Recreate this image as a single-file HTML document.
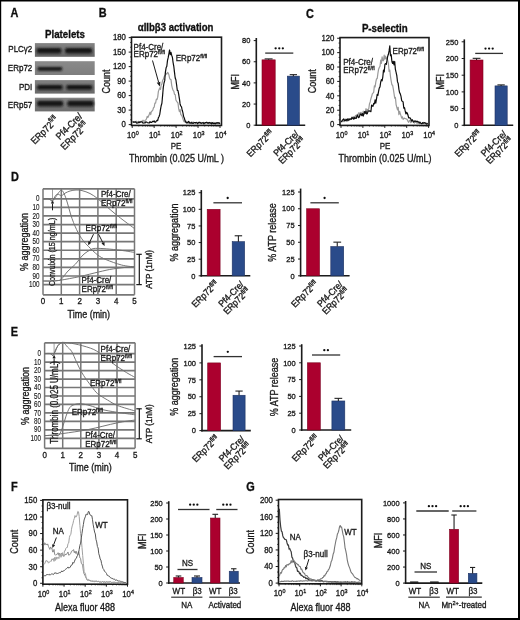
<!DOCTYPE html>
<html><head><meta charset="utf-8"><style>
html,body{margin:0;padding:0;background:#fff;}
svg{display:block;font-family:"Liberation Sans", sans-serif;will-change:transform;}
</style></head><body>
<svg width="520" height="620" viewBox="0 0 520 620">
<rect width="520" height="620" fill="#fff"/>
<defs><filter id="soft" x="0" y="0" width="100%" height="100%"><feGaussianBlur stdDeviation="0.3"/></filter></defs>
<g filter="url(#soft)">
<text transform="translate(10.50 17.20) scale(0.88 1)" font-size="12.39" text-anchor="start" font-weight="bold" fill="#111" stroke="#111" stroke-width="0.341">A</text>
<text transform="translate(98.80 17.30) scale(0.88 1)" font-size="12.39" text-anchor="start" font-weight="bold" fill="#111" stroke="#111" stroke-width="0.341">B</text>
<text transform="translate(306.00 17.60) scale(0.88 1)" font-size="12.39" text-anchor="start" font-weight="bold" fill="#111" stroke="#111" stroke-width="0.341">C</text>
<text transform="translate(11.00 181.00) scale(0.88 1)" font-size="12.39" text-anchor="start" font-weight="bold" fill="#111" stroke="#111" stroke-width="0.341">D</text>
<text transform="translate(10.80 336.00) scale(0.88 1)" font-size="12.39" text-anchor="start" font-weight="bold" fill="#111" stroke="#111" stroke-width="0.341">E</text>
<text transform="translate(11.10 491.40) scale(0.88 1)" font-size="12.39" text-anchor="start" font-weight="bold" fill="#111" stroke="#111" stroke-width="0.341">F</text>
<text transform="translate(246.30 490.60) scale(0.88 1)" font-size="12.39" text-anchor="start" font-weight="bold" fill="#111" stroke="#111" stroke-width="0.341">G</text>
<text transform="translate(65.00 38.30) scale(0.9 1)" font-size="10.78" text-anchor="middle" font-weight="bold" fill="#111" stroke="#111" stroke-width="0.333">Platelets</text>
<defs><filter id="bl" x="-20%" y="-100%" width="140%" height="300%"><feGaussianBlur stdDeviation="0.85"/></filter></defs>
<defs><linearGradient id="bg0" x1="0" y1="0" x2="0" y2="1"><stop offset="0" stop-color="#848484"/><stop offset="1" stop-color="#646464"/></linearGradient></defs>
<rect x="34.90" y="43.10" width="59.80" height="13.70" fill="url(#bg0)"/>
<rect x="36.5" y="47.90" width="25.00" height="5.6" rx="2.15" fill="#141414" filter="url(#bl)"/>
<rect x="65.0" y="47.90" width="27.20" height="5.6" rx="2.15" fill="#141414" filter="url(#bl)"/>
<defs><linearGradient id="bg1" x1="0" y1="0" x2="0" y2="1"><stop offset="0" stop-color="#8a8a8a"/><stop offset="1" stop-color="#7e7e7e"/></linearGradient></defs>
<rect x="34.90" y="61.20" width="59.80" height="13.80" fill="url(#bg1)"/>
<rect x="37.5" y="67.10" width="24.70" height="3.6" rx="1.38" fill="#141414" filter="url(#bl)"/>
<defs><linearGradient id="bg2" x1="0" y1="0" x2="0" y2="1"><stop offset="0" stop-color="#808080"/><stop offset="1" stop-color="#6a6a6a"/></linearGradient></defs>
<rect x="34.90" y="80.10" width="59.80" height="13.50" fill="url(#bg2)"/>
<rect x="37.0" y="85.10" width="25.70" height="4.6" rx="1.77" fill="#141414" filter="url(#bl)"/>
<rect x="66.3" y="85.10" width="26.00" height="4.6" rx="1.77" fill="#141414" filter="url(#bl)"/>
<defs><linearGradient id="bg3" x1="0" y1="0" x2="0" y2="1"><stop offset="0" stop-color="#868686"/><stop offset="1" stop-color="#6c6c6c"/></linearGradient></defs>
<rect x="34.90" y="97.70" width="59.80" height="13.70" fill="url(#bg3)"/>
<rect x="37.0" y="100.80" width="26.20" height="5.6" rx="2.15" fill="#141414" filter="url(#bl)"/>
<rect x="67.3" y="100.80" width="26.50" height="5.6" rx="2.15" fill="#141414" filter="url(#bl)"/>
<text transform="translate(32.30 51.50) scale(0.85 1)" font-size="9.41" text-anchor="end" fill="#1a1a1a" stroke="#1a1a1a" stroke-width="0.353">PLCγ2</text>
<text transform="translate(32.30 71.40) scale(0.85 1)" font-size="9.41" text-anchor="end" fill="#1a1a1a" stroke="#1a1a1a" stroke-width="0.353">ERp72</text>
<text transform="translate(32.30 90.30) scale(0.85 1)" font-size="9.41" text-anchor="end" fill="#1a1a1a" stroke="#1a1a1a" stroke-width="0.353">PDI</text>
<text transform="translate(32.30 108.40) scale(0.85 1)" font-size="9.41" text-anchor="end" fill="#1a1a1a" stroke="#1a1a1a" stroke-width="0.353">ERp57</text>
<text transform="translate(44.80 130.40) rotate(-45) scale(0.9 1)" font-size="9.78" text-anchor="middle" fill="#1a1a1a" stroke="#1a1a1a" stroke-width="0.333" dominant-baseline="central">ERp72<tspan font-size="6.65" baseline-shift="3.23">fl/fl</tspan></text>
<text transform="translate(69.20 126.40) rotate(-45) scale(0.9 1)" font-size="9.78" text-anchor="middle" fill="#1a1a1a" stroke="#1a1a1a" stroke-width="0.333" dominant-baseline="central">Pf4-Cre/</text>
<text transform="translate(74.60 136.00) rotate(-45) scale(0.9 1)" font-size="9.78" text-anchor="middle" fill="#1a1a1a" stroke="#1a1a1a" stroke-width="0.333" dominant-baseline="central">ERp72<tspan font-size="6.65" baseline-shift="3.23">fl/fl</tspan></text>
<rect x="131.50" y="37.20" width="90.00" height="88.20" fill="none" stroke="#1a1a1a" stroke-width="1.6"/>
<line x1="128.70" y1="124.60" x2="131.50" y2="124.60" stroke="#1a1a1a" stroke-width="1.0"/>
<text transform="translate(125.90 127.40) scale(0.93 1)" font-size="8.39" text-anchor="end" fill="#1a1a1a" stroke="#1a1a1a" stroke-width="0.323">0</text>
<line x1="128.70" y1="110.10" x2="131.50" y2="110.10" stroke="#1a1a1a" stroke-width="1.0"/>
<text transform="translate(125.90 112.90) scale(0.93 1)" font-size="8.39" text-anchor="end" fill="#1a1a1a" stroke="#1a1a1a" stroke-width="0.323">30</text>
<line x1="128.70" y1="95.60" x2="131.50" y2="95.60" stroke="#1a1a1a" stroke-width="1.0"/>
<text transform="translate(125.90 98.40) scale(0.93 1)" font-size="8.39" text-anchor="end" fill="#1a1a1a" stroke="#1a1a1a" stroke-width="0.323">60</text>
<line x1="128.70" y1="81.10" x2="131.50" y2="81.10" stroke="#1a1a1a" stroke-width="1.0"/>
<text transform="translate(125.90 83.90) scale(0.93 1)" font-size="8.39" text-anchor="end" fill="#1a1a1a" stroke="#1a1a1a" stroke-width="0.323">90</text>
<line x1="128.70" y1="66.60" x2="131.50" y2="66.60" stroke="#1a1a1a" stroke-width="1.0"/>
<text transform="translate(125.90 69.40) scale(0.93 1)" font-size="8.39" text-anchor="end" fill="#1a1a1a" stroke="#1a1a1a" stroke-width="0.323">120</text>
<line x1="128.70" y1="52.10" x2="131.50" y2="52.10" stroke="#1a1a1a" stroke-width="1.0"/>
<text transform="translate(125.90 54.90) scale(0.93 1)" font-size="8.39" text-anchor="end" fill="#1a1a1a" stroke="#1a1a1a" stroke-width="0.323">150</text>
<line x1="128.70" y1="37.61" x2="131.50" y2="37.61" stroke="#1a1a1a" stroke-width="1.0"/>
<text transform="translate(125.90 40.41) scale(0.93 1)" font-size="8.39" text-anchor="end" fill="#1a1a1a" stroke="#1a1a1a" stroke-width="0.323">180</text>
<line x1="130.10" y1="119.77" x2="131.50" y2="119.77" stroke="#1a1a1a" stroke-width="0.8"/>
<line x1="130.10" y1="114.93" x2="131.50" y2="114.93" stroke="#1a1a1a" stroke-width="0.8"/>
<line x1="130.10" y1="105.27" x2="131.50" y2="105.27" stroke="#1a1a1a" stroke-width="0.8"/>
<line x1="130.10" y1="100.43" x2="131.50" y2="100.43" stroke="#1a1a1a" stroke-width="0.8"/>
<line x1="130.10" y1="90.77" x2="131.50" y2="90.77" stroke="#1a1a1a" stroke-width="0.8"/>
<line x1="130.10" y1="85.94" x2="131.50" y2="85.94" stroke="#1a1a1a" stroke-width="0.8"/>
<line x1="130.10" y1="76.27" x2="131.50" y2="76.27" stroke="#1a1a1a" stroke-width="0.8"/>
<line x1="130.10" y1="71.44" x2="131.50" y2="71.44" stroke="#1a1a1a" stroke-width="0.8"/>
<line x1="130.10" y1="61.77" x2="131.50" y2="61.77" stroke="#1a1a1a" stroke-width="0.8"/>
<line x1="130.10" y1="56.94" x2="131.50" y2="56.94" stroke="#1a1a1a" stroke-width="0.8"/>
<line x1="130.10" y1="47.27" x2="131.50" y2="47.27" stroke="#1a1a1a" stroke-width="0.8"/>
<line x1="130.10" y1="42.44" x2="131.50" y2="42.44" stroke="#1a1a1a" stroke-width="0.8"/>
<line x1="132.20" y1="125.40" x2="132.20" y2="127.90" stroke="#1a1a1a" stroke-width="1.0"/>
<text transform="translate(132.80 138.00) scale(0.93 1)" font-size="8.39" text-anchor="middle" fill="#1a1a1a" stroke="#1a1a1a" stroke-width="0.323">10<tspan font-size="5.81" dy="-3.2">0</tspan></text>
<line x1="138.81" y1="125.40" x2="138.81" y2="126.70" stroke="#1a1a1a" stroke-width="0.6"/>
<line x1="142.67" y1="125.40" x2="142.67" y2="126.70" stroke="#1a1a1a" stroke-width="0.6"/>
<line x1="145.42" y1="125.40" x2="145.42" y2="126.70" stroke="#1a1a1a" stroke-width="0.6"/>
<line x1="147.54" y1="125.40" x2="147.54" y2="126.70" stroke="#1a1a1a" stroke-width="0.6"/>
<line x1="149.28" y1="125.40" x2="149.28" y2="126.70" stroke="#1a1a1a" stroke-width="0.6"/>
<line x1="150.75" y1="125.40" x2="150.75" y2="126.70" stroke="#1a1a1a" stroke-width="0.6"/>
<line x1="152.02" y1="125.40" x2="152.02" y2="126.70" stroke="#1a1a1a" stroke-width="0.6"/>
<line x1="153.15" y1="125.40" x2="153.15" y2="126.70" stroke="#1a1a1a" stroke-width="0.6"/>
<line x1="154.15" y1="125.40" x2="154.15" y2="127.90" stroke="#1a1a1a" stroke-width="1.0"/>
<text transform="translate(154.75 138.00) scale(0.93 1)" font-size="8.39" text-anchor="middle" fill="#1a1a1a" stroke="#1a1a1a" stroke-width="0.323">10<tspan font-size="5.81" dy="-3.2">1</tspan></text>
<line x1="160.76" y1="125.40" x2="160.76" y2="126.70" stroke="#1a1a1a" stroke-width="0.6"/>
<line x1="164.62" y1="125.40" x2="164.62" y2="126.70" stroke="#1a1a1a" stroke-width="0.6"/>
<line x1="167.37" y1="125.40" x2="167.37" y2="126.70" stroke="#1a1a1a" stroke-width="0.6"/>
<line x1="169.49" y1="125.40" x2="169.49" y2="126.70" stroke="#1a1a1a" stroke-width="0.6"/>
<line x1="171.23" y1="125.40" x2="171.23" y2="126.70" stroke="#1a1a1a" stroke-width="0.6"/>
<line x1="172.70" y1="125.40" x2="172.70" y2="126.70" stroke="#1a1a1a" stroke-width="0.6"/>
<line x1="173.97" y1="125.40" x2="173.97" y2="126.70" stroke="#1a1a1a" stroke-width="0.6"/>
<line x1="175.10" y1="125.40" x2="175.10" y2="126.70" stroke="#1a1a1a" stroke-width="0.6"/>
<line x1="176.10" y1="125.40" x2="176.10" y2="127.90" stroke="#1a1a1a" stroke-width="1.0"/>
<text transform="translate(176.70 138.00) scale(0.93 1)" font-size="8.39" text-anchor="middle" fill="#1a1a1a" stroke="#1a1a1a" stroke-width="0.323">10<tspan font-size="5.81" dy="-3.2">2</tspan></text>
<line x1="182.71" y1="125.40" x2="182.71" y2="126.70" stroke="#1a1a1a" stroke-width="0.6"/>
<line x1="186.57" y1="125.40" x2="186.57" y2="126.70" stroke="#1a1a1a" stroke-width="0.6"/>
<line x1="189.32" y1="125.40" x2="189.32" y2="126.70" stroke="#1a1a1a" stroke-width="0.6"/>
<line x1="191.44" y1="125.40" x2="191.44" y2="126.70" stroke="#1a1a1a" stroke-width="0.6"/>
<line x1="193.18" y1="125.40" x2="193.18" y2="126.70" stroke="#1a1a1a" stroke-width="0.6"/>
<line x1="194.65" y1="125.40" x2="194.65" y2="126.70" stroke="#1a1a1a" stroke-width="0.6"/>
<line x1="195.92" y1="125.40" x2="195.92" y2="126.70" stroke="#1a1a1a" stroke-width="0.6"/>
<line x1="197.05" y1="125.40" x2="197.05" y2="126.70" stroke="#1a1a1a" stroke-width="0.6"/>
<line x1="198.05" y1="125.40" x2="198.05" y2="127.90" stroke="#1a1a1a" stroke-width="1.0"/>
<text transform="translate(198.65 138.00) scale(0.93 1)" font-size="8.39" text-anchor="middle" fill="#1a1a1a" stroke="#1a1a1a" stroke-width="0.323">10<tspan font-size="5.81" dy="-3.2">3</tspan></text>
<line x1="204.66" y1="125.40" x2="204.66" y2="126.70" stroke="#1a1a1a" stroke-width="0.6"/>
<line x1="208.52" y1="125.40" x2="208.52" y2="126.70" stroke="#1a1a1a" stroke-width="0.6"/>
<line x1="211.27" y1="125.40" x2="211.27" y2="126.70" stroke="#1a1a1a" stroke-width="0.6"/>
<line x1="213.39" y1="125.40" x2="213.39" y2="126.70" stroke="#1a1a1a" stroke-width="0.6"/>
<line x1="215.13" y1="125.40" x2="215.13" y2="126.70" stroke="#1a1a1a" stroke-width="0.6"/>
<line x1="216.60" y1="125.40" x2="216.60" y2="126.70" stroke="#1a1a1a" stroke-width="0.6"/>
<line x1="217.87" y1="125.40" x2="217.87" y2="126.70" stroke="#1a1a1a" stroke-width="0.6"/>
<line x1="219.00" y1="125.40" x2="219.00" y2="126.70" stroke="#1a1a1a" stroke-width="0.6"/>
<line x1="220.00" y1="125.40" x2="220.00" y2="127.90" stroke="#1a1a1a" stroke-width="1.0"/>
<text transform="translate(220.60 138.00) scale(0.93 1)" font-size="8.39" text-anchor="middle" fill="#1a1a1a" stroke="#1a1a1a" stroke-width="0.323">10<tspan font-size="5.81" dy="-3.2">4</tspan></text>
<text transform="translate(106.00 81.50) rotate(-90) scale(0.9 1)" font-size="10.00" text-anchor="middle" fill="#1a1a1a" stroke="#1a1a1a" stroke-width="0.333" dominant-baseline="central">Count</text>
<polyline points="132.50,122.05 133.20,122.51 133.90,122.15 134.60,122.49 135.30,122.47 136.00,121.41 136.70,121.24 137.40,122.67 138.10,121.54 138.80,121.34 139.50,122.63 140.20,121.49 140.90,122.06 141.60,121.21 142.30,121.40 143.00,120.25 143.70,121.11 144.40,121.47 145.10,120.27 145.80,119.93 146.50,118.91 147.20,116.30 147.90,117.47 148.60,116.09 149.30,114.20 150.00,112.26 150.70,114.57 151.40,111.49 152.10,111.02 152.80,110.18 153.50,107.77 154.20,107.14 154.90,102.99 155.60,103.05 156.30,99.26 157.00,99.53 157.70,97.17 158.40,91.34 159.10,89.44 159.80,87.76 160.50,89.39 161.20,84.88 161.90,83.82 162.60,80.29 163.30,79.32 164.00,77.13 164.70,75.42 165.40,75.01 166.10,73.46 166.80,74.02 167.50,72.41 168.20,73.04 168.90,74.91 169.60,78.25 170.30,79.40 171.00,79.58 171.70,85.35 172.40,88.28 173.10,90.42 173.80,91.23 174.50,94.44 175.20,94.53 175.90,100.02 176.60,101.29 177.30,102.05 178.00,103.06 178.70,108.93 179.40,111.66 180.10,109.57 180.80,114.59 181.50,115.18 182.20,116.52 182.90,118.76 183.60,120.83 184.30,121.93 185.00,121.18 185.70,122.29 186.40,121.33 187.10,122.60 187.80,121.99 188.50,123.02 189.20,123.25 189.90,122.50 190.60,123.41 191.30,122.32 192.00,122.00 192.70,122.94 193.40,122.08 194.10,122.43 194.80,122.83 195.50,123.18 196.20,122.47 196.90,122.30 197.60,123.61 198.30,122.75 199.00,123.77 199.70,123.68 200.40,122.87 201.10,123.01 201.80,123.11 202.50,123.31 203.20,123.25 203.90,123.20 204.60,123.30 205.30,123.81 206.00,123.14 206.70,123.03 207.40,123.49 208.10,122.75 208.80,122.86 209.50,123.91 210.20,123.21 210.90,123.26 211.60,122.44 212.30,123.07 213.00,123.33 213.70,122.49 214.40,123.41 215.10,123.44 215.80,122.57 216.50,123.45 217.20,123.21 217.90,123.54 218.60,123.05 219.30,123.60 220.00,123.65" fill="none" stroke="#9a9a9a" stroke-width="1.2" stroke-linejoin="round"/>
<polyline points="132.50,122.05 133.20,121.82 133.90,122.32 134.60,121.91 135.30,121.76 136.00,122.33 136.70,123.21 137.40,123.01 138.10,122.95 138.80,122.03 139.50,122.56 140.20,122.12 140.90,121.92 141.60,121.79 142.30,121.96 143.00,123.17 143.70,122.99 144.40,122.94 145.10,122.92 145.80,121.85 146.50,122.04 147.20,122.58 147.90,122.75 148.60,122.95 149.30,122.98 150.00,121.58 150.70,122.38 151.40,122.39 152.10,121.97 152.80,121.25 153.50,121.69 154.20,120.84 154.90,122.36 155.60,122.01 156.30,121.11 157.00,120.33 157.70,120.61 158.40,117.59 159.10,116.46 159.80,114.14 160.50,109.46 161.20,105.70 161.90,103.27 162.60,95.56 163.30,87.36 164.00,82.97 164.70,80.64 165.40,72.17 166.10,67.80 166.80,66.35 167.50,60.46 168.20,57.70 168.90,53.61 169.60,49.97 170.30,54.69 171.00,52.41 171.70,55.41 172.40,57.29 173.10,62.62 173.80,66.42 174.50,72.31 175.20,78.00 175.90,79.78 176.60,84.74 177.30,90.41 178.00,90.60 178.70,94.46 179.40,98.59 180.10,103.94 180.80,105.99 181.50,106.96 182.20,110.25 182.90,112.58 183.60,116.47 184.30,117.99 185.00,120.54 185.70,121.86 186.40,122.83 187.10,122.51 187.80,122.98 188.50,121.39 189.20,121.96 189.90,123.21 190.60,122.96 191.30,122.42 192.00,123.39 192.70,122.93 193.40,123.33 194.10,122.56 194.80,122.49 195.50,122.92 196.20,122.44 196.90,122.84 197.60,123.76 198.30,122.77 199.00,122.28 199.70,122.34 200.40,122.55 201.10,123.52 201.80,122.87 202.50,122.76 203.20,122.47 203.90,123.86 204.60,122.99 205.30,122.67 206.00,122.45 206.70,122.45 207.40,122.63 208.10,123.43 208.80,122.62 209.50,122.46 210.20,123.16 210.90,122.80 211.60,123.96 212.30,122.62 213.00,123.26 213.70,123.64 214.40,123.09 215.10,123.98 215.80,123.21 216.50,122.86 217.20,123.13 217.90,122.57 218.60,123.16 219.30,122.90 220.00,123.88" fill="none" stroke="#111" stroke-width="1.2" stroke-linejoin="round"/>
<text transform="translate(175.60 31.00) scale(0.9 1)" font-size="10.67" text-anchor="middle" font-weight="bold" fill="#111" stroke="#111" stroke-width="0.333">αIIbβ3 activation</text>
<text transform="translate(176.00 149.30) scale(0.9 1)" font-size="8.89" text-anchor="middle" fill="#1a1a1a" stroke="#1a1a1a" stroke-width="0.333">PE</text>
<text transform="translate(176.50 161.60) scale(0.9 1)" font-size="10.00" text-anchor="middle" fill="#1a1a1a" stroke="#1a1a1a" stroke-width="0.333">Thrombin (0.025 U/mL )</text>
<text transform="translate(133.60 49.50) scale(0.9 1)" font-size="8.89" text-anchor="start" fill="#1a1a1a" stroke="#1a1a1a" stroke-width="0.333">Pf4-Cre/</text>
<text transform="translate(133.60 57.20) scale(0.9 1)" font-size="8.89" text-anchor="start" fill="#1a1a1a" stroke="#1a1a1a" stroke-width="0.333">ERp72<tspan font-size="6.04" baseline-shift="2.93">fl/fl</tspan></text>
<text transform="translate(175.80 60.80) scale(0.9 1)" font-size="8.89" text-anchor="start" fill="#1a1a1a" stroke="#1a1a1a" stroke-width="0.333">ERp72<tspan font-size="6.04" baseline-shift="2.93">fl/fl</tspan></text>
<line x1="152.50" y1="60.50" x2="158.58" y2="82.17" stroke="#1a1a1a" stroke-width="1"/>
<polygon points="159.80,86.50 156.75,82.68 160.41,81.65" fill="#1a1a1a"/>
<rect x="340.00" y="37.60" width="89.00" height="87.80" fill="none" stroke="#1a1a1a" stroke-width="1.6"/>
<line x1="337.20" y1="124.60" x2="340.00" y2="124.60" stroke="#1a1a1a" stroke-width="1.0"/>
<text transform="translate(334.40 127.40) scale(0.93 1)" font-size="8.39" text-anchor="end" fill="#1a1a1a" stroke="#1a1a1a" stroke-width="0.323">0</text>
<line x1="337.20" y1="110.21" x2="340.00" y2="110.21" stroke="#1a1a1a" stroke-width="1.0"/>
<text transform="translate(334.40 113.01) scale(0.93 1)" font-size="8.39" text-anchor="end" fill="#1a1a1a" stroke="#1a1a1a" stroke-width="0.323">20</text>
<line x1="337.20" y1="95.82" x2="340.00" y2="95.82" stroke="#1a1a1a" stroke-width="1.0"/>
<text transform="translate(334.40 98.62) scale(0.93 1)" font-size="8.39" text-anchor="end" fill="#1a1a1a" stroke="#1a1a1a" stroke-width="0.323">40</text>
<line x1="337.20" y1="81.42" x2="340.00" y2="81.42" stroke="#1a1a1a" stroke-width="1.0"/>
<text transform="translate(334.40 84.22) scale(0.93 1)" font-size="8.39" text-anchor="end" fill="#1a1a1a" stroke="#1a1a1a" stroke-width="0.323">60</text>
<line x1="337.20" y1="67.03" x2="340.00" y2="67.03" stroke="#1a1a1a" stroke-width="1.0"/>
<text transform="translate(334.40 69.83) scale(0.93 1)" font-size="8.39" text-anchor="end" fill="#1a1a1a" stroke="#1a1a1a" stroke-width="0.323">80</text>
<line x1="337.20" y1="52.64" x2="340.00" y2="52.64" stroke="#1a1a1a" stroke-width="1.0"/>
<text transform="translate(334.40 55.44) scale(0.93 1)" font-size="8.39" text-anchor="end" fill="#1a1a1a" stroke="#1a1a1a" stroke-width="0.323">100</text>
<line x1="337.20" y1="38.25" x2="340.00" y2="38.25" stroke="#1a1a1a" stroke-width="1.0"/>
<text transform="translate(334.40 41.05) scale(0.93 1)" font-size="8.39" text-anchor="end" fill="#1a1a1a" stroke="#1a1a1a" stroke-width="0.323">120</text>
<line x1="338.60" y1="119.80" x2="340.00" y2="119.80" stroke="#1a1a1a" stroke-width="0.8"/>
<line x1="338.60" y1="115.01" x2="340.00" y2="115.01" stroke="#1a1a1a" stroke-width="0.8"/>
<line x1="338.60" y1="105.41" x2="340.00" y2="105.41" stroke="#1a1a1a" stroke-width="0.8"/>
<line x1="338.60" y1="100.61" x2="340.00" y2="100.61" stroke="#1a1a1a" stroke-width="0.8"/>
<line x1="338.60" y1="91.02" x2="340.00" y2="91.02" stroke="#1a1a1a" stroke-width="0.8"/>
<line x1="338.60" y1="86.22" x2="340.00" y2="86.22" stroke="#1a1a1a" stroke-width="0.8"/>
<line x1="338.60" y1="76.63" x2="340.00" y2="76.63" stroke="#1a1a1a" stroke-width="0.8"/>
<line x1="338.60" y1="71.83" x2="340.00" y2="71.83" stroke="#1a1a1a" stroke-width="0.8"/>
<line x1="338.60" y1="62.23" x2="340.00" y2="62.23" stroke="#1a1a1a" stroke-width="0.8"/>
<line x1="338.60" y1="57.44" x2="340.00" y2="57.44" stroke="#1a1a1a" stroke-width="0.8"/>
<line x1="338.60" y1="47.84" x2="340.00" y2="47.84" stroke="#1a1a1a" stroke-width="0.8"/>
<line x1="338.60" y1="43.05" x2="340.00" y2="43.05" stroke="#1a1a1a" stroke-width="0.8"/>
<line x1="341.00" y1="125.40" x2="341.00" y2="127.90" stroke="#1a1a1a" stroke-width="1.0"/>
<text transform="translate(341.60 138.00) scale(0.93 1)" font-size="8.39" text-anchor="middle" fill="#1a1a1a" stroke="#1a1a1a" stroke-width="0.323">10<tspan font-size="5.81" dy="-3.2">0</tspan></text>
<line x1="347.59" y1="125.40" x2="347.59" y2="126.70" stroke="#1a1a1a" stroke-width="0.6"/>
<line x1="351.45" y1="125.40" x2="351.45" y2="126.70" stroke="#1a1a1a" stroke-width="0.6"/>
<line x1="354.19" y1="125.40" x2="354.19" y2="126.70" stroke="#1a1a1a" stroke-width="0.6"/>
<line x1="356.31" y1="125.40" x2="356.31" y2="126.70" stroke="#1a1a1a" stroke-width="0.6"/>
<line x1="358.04" y1="125.40" x2="358.04" y2="126.70" stroke="#1a1a1a" stroke-width="0.6"/>
<line x1="359.51" y1="125.40" x2="359.51" y2="126.70" stroke="#1a1a1a" stroke-width="0.6"/>
<line x1="360.78" y1="125.40" x2="360.78" y2="126.70" stroke="#1a1a1a" stroke-width="0.6"/>
<line x1="361.90" y1="125.40" x2="361.90" y2="126.70" stroke="#1a1a1a" stroke-width="0.6"/>
<line x1="362.90" y1="125.40" x2="362.90" y2="127.90" stroke="#1a1a1a" stroke-width="1.0"/>
<text transform="translate(363.50 138.00) scale(0.93 1)" font-size="8.39" text-anchor="middle" fill="#1a1a1a" stroke="#1a1a1a" stroke-width="0.323">10<tspan font-size="5.81" dy="-3.2">1</tspan></text>
<line x1="369.49" y1="125.40" x2="369.49" y2="126.70" stroke="#1a1a1a" stroke-width="0.6"/>
<line x1="373.35" y1="125.40" x2="373.35" y2="126.70" stroke="#1a1a1a" stroke-width="0.6"/>
<line x1="376.09" y1="125.40" x2="376.09" y2="126.70" stroke="#1a1a1a" stroke-width="0.6"/>
<line x1="378.21" y1="125.40" x2="378.21" y2="126.70" stroke="#1a1a1a" stroke-width="0.6"/>
<line x1="379.94" y1="125.40" x2="379.94" y2="126.70" stroke="#1a1a1a" stroke-width="0.6"/>
<line x1="381.41" y1="125.40" x2="381.41" y2="126.70" stroke="#1a1a1a" stroke-width="0.6"/>
<line x1="382.68" y1="125.40" x2="382.68" y2="126.70" stroke="#1a1a1a" stroke-width="0.6"/>
<line x1="383.80" y1="125.40" x2="383.80" y2="126.70" stroke="#1a1a1a" stroke-width="0.6"/>
<line x1="384.80" y1="125.40" x2="384.80" y2="127.90" stroke="#1a1a1a" stroke-width="1.0"/>
<text transform="translate(385.40 138.00) scale(0.93 1)" font-size="8.39" text-anchor="middle" fill="#1a1a1a" stroke="#1a1a1a" stroke-width="0.323">10<tspan font-size="5.81" dy="-3.2">2</tspan></text>
<line x1="391.39" y1="125.40" x2="391.39" y2="126.70" stroke="#1a1a1a" stroke-width="0.6"/>
<line x1="395.25" y1="125.40" x2="395.25" y2="126.70" stroke="#1a1a1a" stroke-width="0.6"/>
<line x1="397.99" y1="125.40" x2="397.99" y2="126.70" stroke="#1a1a1a" stroke-width="0.6"/>
<line x1="400.11" y1="125.40" x2="400.11" y2="126.70" stroke="#1a1a1a" stroke-width="0.6"/>
<line x1="401.84" y1="125.40" x2="401.84" y2="126.70" stroke="#1a1a1a" stroke-width="0.6"/>
<line x1="403.31" y1="125.40" x2="403.31" y2="126.70" stroke="#1a1a1a" stroke-width="0.6"/>
<line x1="404.58" y1="125.40" x2="404.58" y2="126.70" stroke="#1a1a1a" stroke-width="0.6"/>
<line x1="405.70" y1="125.40" x2="405.70" y2="126.70" stroke="#1a1a1a" stroke-width="0.6"/>
<line x1="406.70" y1="125.40" x2="406.70" y2="127.90" stroke="#1a1a1a" stroke-width="1.0"/>
<text transform="translate(407.30 138.00) scale(0.93 1)" font-size="8.39" text-anchor="middle" fill="#1a1a1a" stroke="#1a1a1a" stroke-width="0.323">10<tspan font-size="5.81" dy="-3.2">3</tspan></text>
<line x1="413.29" y1="125.40" x2="413.29" y2="126.70" stroke="#1a1a1a" stroke-width="0.6"/>
<line x1="417.15" y1="125.40" x2="417.15" y2="126.70" stroke="#1a1a1a" stroke-width="0.6"/>
<line x1="419.89" y1="125.40" x2="419.89" y2="126.70" stroke="#1a1a1a" stroke-width="0.6"/>
<line x1="422.01" y1="125.40" x2="422.01" y2="126.70" stroke="#1a1a1a" stroke-width="0.6"/>
<line x1="423.74" y1="125.40" x2="423.74" y2="126.70" stroke="#1a1a1a" stroke-width="0.6"/>
<line x1="425.21" y1="125.40" x2="425.21" y2="126.70" stroke="#1a1a1a" stroke-width="0.6"/>
<line x1="426.48" y1="125.40" x2="426.48" y2="126.70" stroke="#1a1a1a" stroke-width="0.6"/>
<line x1="427.60" y1="125.40" x2="427.60" y2="126.70" stroke="#1a1a1a" stroke-width="0.6"/>
<line x1="428.60" y1="125.40" x2="428.60" y2="127.90" stroke="#1a1a1a" stroke-width="1.0"/>
<text transform="translate(429.20 138.00) scale(0.93 1)" font-size="8.39" text-anchor="middle" fill="#1a1a1a" stroke="#1a1a1a" stroke-width="0.323">10<tspan font-size="5.81" dy="-3.2">4</tspan></text>
<text transform="translate(312.50 81.30) rotate(-90) scale(0.9 1)" font-size="10.00" text-anchor="middle" fill="#1a1a1a" stroke="#1a1a1a" stroke-width="0.333" dominant-baseline="central">Count</text>
<polyline points="340.80,121.12 341.50,121.37 342.20,121.43 342.90,121.74 343.60,121.10 344.30,121.52 345.00,118.93 345.70,120.05 346.40,121.32 347.10,120.39 347.80,121.03 348.50,118.62 349.20,119.57 349.90,118.81 350.60,119.53 351.30,119.25 352.00,117.04 352.70,117.30 353.40,117.11 354.10,119.02 354.80,118.12 355.50,115.44 356.20,117.56 356.90,114.53 357.60,116.12 358.30,113.64 359.00,112.67 359.70,116.18 360.40,112.77 361.10,112.34 361.80,115.60 362.50,114.64 363.20,111.19 363.90,114.28 364.60,111.56 365.30,111.87 366.00,108.70 366.70,111.98 367.40,109.40 368.10,109.99 368.80,108.48 369.50,103.70 370.20,101.99 370.90,98.74 371.60,96.54 372.30,93.97 373.00,93.20 373.70,92.17 374.40,85.73 375.10,86.94 375.80,82.06 376.50,78.93 377.20,78.72 377.90,73.44 378.60,69.19 379.30,67.45 380.00,66.45 380.70,60.22 381.40,63.39 382.10,56.86 382.80,60.67 383.50,60.69 384.20,55.17 384.90,59.24 385.60,56.16 386.30,58.92 387.00,57.82 387.70,60.36 388.40,63.49 389.10,71.39 389.80,70.09 390.50,76.71 391.20,81.15 391.90,84.96 392.60,85.12 393.30,88.92 394.00,93.41 394.70,98.17 395.40,97.43 396.10,104.53 396.80,107.27 397.50,109.96 398.20,107.41 398.90,114.57 399.60,111.29 400.30,113.60 401.00,115.84 401.70,118.06 402.40,116.78 403.10,119.34 403.80,118.46 404.50,118.17 405.20,118.68 405.90,118.77 406.60,119.00 407.30,119.72 408.00,121.41 408.70,122.34 409.40,120.38 410.10,120.28 410.80,122.72 411.50,121.79 412.20,121.65 412.90,121.43 413.60,122.39 414.30,123.05 415.00,122.41 415.70,122.39 416.40,121.68 417.10,123.53 417.80,121.75 418.50,122.76 419.20,123.51 419.90,122.13 420.60,123.39 421.30,123.88 422.00,123.30 422.70,123.65 423.40,122.38 424.10,123.07 424.80,122.59 425.50,123.96 426.20,122.98 426.90,123.33 427.60,124.39" fill="none" stroke="#9a9a9a" stroke-width="1.2" stroke-linejoin="round"/>
<polyline points="340.80,121.57 341.50,121.56 342.20,120.53 342.90,119.78 343.60,118.91 344.30,120.63 345.00,119.95 345.70,120.66 346.40,119.39 347.10,120.44 347.80,118.81 348.50,120.29 349.20,119.94 349.90,118.82 350.60,119.06 351.30,119.30 352.00,117.45 352.70,118.43 353.40,119.08 354.10,116.96 354.80,118.66 355.50,118.02 356.20,118.39 356.90,116.25 357.60,115.07 358.30,117.60 359.00,117.41 359.70,115.74 360.40,114.04 361.10,114.11 361.80,115.52 362.50,113.51 363.20,116.10 363.90,113.94 364.60,111.56 365.30,113.37 366.00,111.37 366.70,113.97 367.40,113.43 368.10,110.78 368.80,111.07 369.50,110.94 370.20,111.13 370.90,111.69 371.60,105.08 372.30,105.96 373.00,106.29 373.70,103.39 374.40,103.98 375.10,99.87 375.80,103.07 376.50,98.82 377.20,94.25 377.90,95.41 378.60,91.18 379.30,87.98 380.00,86.90 380.70,82.03 381.40,79.66 382.10,80.79 382.80,76.99 383.50,70.08 384.20,71.86 384.90,64.46 385.60,63.51 386.30,64.45 387.00,60.41 387.70,56.18 388.40,54.26 389.10,50.88 389.80,45.86 390.50,55.73 391.20,54.69 391.90,61.54 392.60,63.48 393.30,61.39 394.00,64.89 394.70,61.48 395.40,69.43 396.10,72.45 396.80,75.65 397.50,81.68 398.20,83.41 398.90,89.29 399.60,92.66 400.30,93.88 401.00,96.38 401.70,100.56 402.40,101.49 403.10,101.89 403.80,108.20 404.50,107.66 405.20,110.94 405.90,113.89 406.60,112.30 407.30,113.22 408.00,115.23 408.70,117.94 409.40,117.70 410.10,117.94 410.80,119.14 411.50,121.10 412.20,119.73 412.90,120.61 413.60,122.00 414.30,121.48 415.00,120.79 415.70,121.48 416.40,121.66 417.10,121.06 417.80,121.78 418.50,121.80 419.20,123.06 419.90,122.16 420.60,122.95 421.30,123.68 422.00,123.65 422.70,122.62 423.40,123.16 424.10,122.68 424.80,122.92 425.50,123.18 426.20,123.84 426.90,124.19 427.60,123.07" fill="none" stroke="#111" stroke-width="1.2" stroke-linejoin="round"/>
<text transform="translate(384.80 32.00) scale(0.9 1)" font-size="10.78" text-anchor="middle" font-weight="bold" fill="#111" stroke="#111" stroke-width="0.333">P-selectin</text>
<text transform="translate(385.00 149.30) scale(0.9 1)" font-size="8.89" text-anchor="middle" fill="#1a1a1a" stroke="#1a1a1a" stroke-width="0.333">PE</text>
<text transform="translate(385.00 161.60) scale(0.9 1)" font-size="10.00" text-anchor="middle" fill="#1a1a1a" stroke="#1a1a1a" stroke-width="0.333">Thrombin (0.025 U/mL)</text>
<text transform="translate(392.60 54.20) scale(0.9 1)" font-size="8.89" text-anchor="start" fill="#1a1a1a" stroke="#1a1a1a" stroke-width="0.333">ERp72<tspan font-size="6.04" baseline-shift="2.93">fl/fl</tspan></text>
<text transform="translate(343.30 64.50) scale(0.9 1)" font-size="8.89" text-anchor="start" fill="#1a1a1a" stroke="#1a1a1a" stroke-width="0.333">Pf4-Cre/</text>
<text transform="translate(343.30 73.20) scale(0.9 1)" font-size="8.89" text-anchor="start" fill="#1a1a1a" stroke="#1a1a1a" stroke-width="0.333">ERp72<tspan font-size="6.04" baseline-shift="2.93">fl/fl</tspan></text>
<line x1="256.30" y1="38.00" x2="256.30" y2="126.00" stroke="#1a1a1a" stroke-width="1.6"/>
<line x1="255.50" y1="125.20" x2="305.20" y2="125.20" stroke="#1a1a1a" stroke-width="1.6"/>
<line x1="253.70" y1="125.20" x2="256.30" y2="125.20" stroke="#1a1a1a" stroke-width="1.0"/>
<text transform="translate(250.30 127.90) scale(0.93 1)" font-size="8.06" text-anchor="end" fill="#1a1a1a" stroke="#1a1a1a" stroke-width="0.323">0</text>
<line x1="253.70" y1="104.05" x2="256.30" y2="104.05" stroke="#1a1a1a" stroke-width="1.0"/>
<text transform="translate(250.30 106.75) scale(0.93 1)" font-size="8.06" text-anchor="end" fill="#1a1a1a" stroke="#1a1a1a" stroke-width="0.323">20</text>
<line x1="253.70" y1="82.90" x2="256.30" y2="82.90" stroke="#1a1a1a" stroke-width="1.0"/>
<text transform="translate(250.30 85.60) scale(0.93 1)" font-size="8.06" text-anchor="end" fill="#1a1a1a" stroke="#1a1a1a" stroke-width="0.323">40</text>
<line x1="253.70" y1="61.75" x2="256.30" y2="61.75" stroke="#1a1a1a" stroke-width="1.0"/>
<text transform="translate(250.30 64.45) scale(0.93 1)" font-size="8.06" text-anchor="end" fill="#1a1a1a" stroke="#1a1a1a" stroke-width="0.323">60</text>
<line x1="253.70" y1="40.60" x2="256.30" y2="40.60" stroke="#1a1a1a" stroke-width="1.0"/>
<text transform="translate(250.30 43.30) scale(0.93 1)" font-size="8.06" text-anchor="end" fill="#1a1a1a" stroke="#1a1a1a" stroke-width="0.323">80</text>
<rect x="262.00" y="59.85" width="13.20" height="65.35" fill="#ab022d" stroke="#7e0020" stroke-width="0.6"/>
<line x1="268.60" y1="59.85" x2="268.60" y2="58.89" stroke="#222" stroke-width="1.1"/>
<line x1="264.64" y1="58.89" x2="272.56" y2="58.89" stroke="#222" stroke-width="1.1"/>
<rect x="287.30" y="76.13" width="12.10" height="49.07" fill="#2c4b8a" stroke="#1d3160" stroke-width="0.6"/>
<line x1="293.35" y1="76.13" x2="293.35" y2="74.65" stroke="#222" stroke-width="1.1"/>
<line x1="289.72" y1="74.65" x2="296.98" y2="74.65" stroke="#222" stroke-width="1.1"/>
<line x1="265.20" y1="53.10" x2="293.30" y2="53.10" stroke="#333" stroke-width="1.3"/>
<circle cx="275.65" cy="48.30" r="1.15" fill="#111"/>
<circle cx="279.25" cy="48.30" r="1.15" fill="#111"/>
<circle cx="282.85" cy="48.30" r="1.15" fill="#111"/>
<text transform="translate(235.50 81.70) rotate(-90) scale(0.9 1)" font-size="10.00" text-anchor="middle" fill="#1a1a1a" stroke="#1a1a1a" stroke-width="0.333" dominant-baseline="central">MFI</text>
<text transform="translate(260.10 143.40) rotate(-45) scale(0.9 1)" font-size="9.44" text-anchor="middle" fill="#1a1a1a" stroke="#1a1a1a" stroke-width="0.333" dominant-baseline="central">ERp72<tspan font-size="6.42" baseline-shift="3.12">fl/fl</tspan></text>
<text transform="translate(286.10 143.40) rotate(-45) scale(0.9 1)" font-size="9.44" text-anchor="middle" fill="#1a1a1a" stroke="#1a1a1a" stroke-width="0.333" dominant-baseline="central">Pf4-Cre/</text>
<text transform="translate(291.70 150.50) rotate(-45) scale(0.9 1)" font-size="9.44" text-anchor="middle" fill="#1a1a1a" stroke="#1a1a1a" stroke-width="0.333" dominant-baseline="central">ERp72<tspan font-size="6.42" baseline-shift="3.12">fl/fl</tspan></text>
<line x1="464.30" y1="39.40" x2="464.30" y2="126.10" stroke="#1a1a1a" stroke-width="1.6"/>
<line x1="463.50" y1="125.30" x2="513.20" y2="125.30" stroke="#1a1a1a" stroke-width="1.6"/>
<line x1="461.70" y1="125.30" x2="464.30" y2="125.30" stroke="#1a1a1a" stroke-width="1.0"/>
<text transform="translate(458.30 128.00) scale(0.93 1)" font-size="8.06" text-anchor="end" fill="#1a1a1a" stroke="#1a1a1a" stroke-width="0.323">0</text>
<line x1="461.70" y1="108.60" x2="464.30" y2="108.60" stroke="#1a1a1a" stroke-width="1.0"/>
<text transform="translate(458.30 111.30) scale(0.93 1)" font-size="8.06" text-anchor="end" fill="#1a1a1a" stroke="#1a1a1a" stroke-width="0.323">50</text>
<line x1="461.70" y1="91.90" x2="464.30" y2="91.90" stroke="#1a1a1a" stroke-width="1.0"/>
<text transform="translate(458.30 94.60) scale(0.93 1)" font-size="8.06" text-anchor="end" fill="#1a1a1a" stroke="#1a1a1a" stroke-width="0.323">100</text>
<line x1="461.70" y1="75.20" x2="464.30" y2="75.20" stroke="#1a1a1a" stroke-width="1.0"/>
<text transform="translate(458.30 77.90) scale(0.93 1)" font-size="8.06" text-anchor="end" fill="#1a1a1a" stroke="#1a1a1a" stroke-width="0.323">150</text>
<line x1="461.70" y1="58.50" x2="464.30" y2="58.50" stroke="#1a1a1a" stroke-width="1.0"/>
<text transform="translate(458.30 61.20) scale(0.93 1)" font-size="8.06" text-anchor="end" fill="#1a1a1a" stroke="#1a1a1a" stroke-width="0.323">200</text>
<line x1="461.70" y1="41.80" x2="464.30" y2="41.80" stroke="#1a1a1a" stroke-width="1.0"/>
<text transform="translate(458.30 44.50) scale(0.93 1)" font-size="8.06" text-anchor="end" fill="#1a1a1a" stroke="#1a1a1a" stroke-width="0.323">250</text>
<rect x="470.10" y="60.00" width="12.90" height="65.30" fill="#ab022d" stroke="#7e0020" stroke-width="0.6"/>
<line x1="476.55" y1="60.00" x2="476.55" y2="58.33" stroke="#222" stroke-width="1.1"/>
<line x1="472.68" y1="58.33" x2="480.42" y2="58.33" stroke="#222" stroke-width="1.1"/>
<rect x="495.00" y="85.89" width="12.20" height="39.41" fill="#2c4b8a" stroke="#1d3160" stroke-width="0.6"/>
<line x1="501.10" y1="85.89" x2="501.10" y2="84.89" stroke="#222" stroke-width="1.1"/>
<line x1="497.44" y1="84.89" x2="504.76" y2="84.89" stroke="#222" stroke-width="1.1"/>
<line x1="475.20" y1="53.40" x2="503.00" y2="53.40" stroke="#333" stroke-width="1.3"/>
<circle cx="485.50" cy="48.60" r="1.15" fill="#111"/>
<circle cx="489.10" cy="48.60" r="1.15" fill="#111"/>
<circle cx="492.70" cy="48.60" r="1.15" fill="#111"/>
<text transform="translate(440.60 81.75) rotate(-90) scale(0.9 1)" font-size="10.00" text-anchor="middle" fill="#1a1a1a" stroke="#1a1a1a" stroke-width="0.333" dominant-baseline="central">MFI</text>
<text transform="translate(468.00 143.50) rotate(-45) scale(0.9 1)" font-size="9.44" text-anchor="middle" fill="#1a1a1a" stroke="#1a1a1a" stroke-width="0.333" dominant-baseline="central">ERp72<tspan font-size="6.42" baseline-shift="3.12">fl/fl</tspan></text>
<text transform="translate(493.80 143.50) rotate(-45) scale(0.9 1)" font-size="9.44" text-anchor="middle" fill="#1a1a1a" stroke="#1a1a1a" stroke-width="0.333" dominant-baseline="central">Pf4-Cre/</text>
<text transform="translate(499.40 150.60) rotate(-45) scale(0.9 1)" font-size="9.44" text-anchor="middle" fill="#1a1a1a" stroke="#1a1a1a" stroke-width="0.333" dominant-baseline="central">ERp72<tspan font-size="6.42" baseline-shift="3.12">fl/fl</tspan></text>
<line x1="43.00" y1="188.80" x2="134.50" y2="188.80" stroke="#777777" stroke-width="1.7"/>
<line x1="43.00" y1="294.80" x2="134.50" y2="294.80" stroke="#777777" stroke-width="1.7"/>
<line x1="43.00" y1="198.80" x2="134.50" y2="198.80" stroke="#777777" stroke-width="1.7"/>
<text transform="translate(39.40 201.40) scale(0.75 1)" font-size="8.40" text-anchor="end" fill="#1a1a1a" stroke="#1a1a1a" stroke-width="0.133">0</text>
<line x1="43.00" y1="207.38" x2="134.50" y2="207.38" stroke="#777777" stroke-width="1.7"/>
<text transform="translate(39.40 209.97) scale(0.75 1)" font-size="8.40" text-anchor="end" fill="#1a1a1a" stroke="#1a1a1a" stroke-width="0.133">10</text>
<line x1="43.00" y1="215.95" x2="134.50" y2="215.95" stroke="#777777" stroke-width="1.7"/>
<text transform="translate(39.40 218.55) scale(0.75 1)" font-size="8.40" text-anchor="end" fill="#1a1a1a" stroke="#1a1a1a" stroke-width="0.133">20</text>
<line x1="43.00" y1="224.53" x2="134.50" y2="224.53" stroke="#777777" stroke-width="1.7"/>
<text transform="translate(39.40 227.12) scale(0.75 1)" font-size="8.40" text-anchor="end" fill="#1a1a1a" stroke="#1a1a1a" stroke-width="0.133">30</text>
<line x1="43.00" y1="233.10" x2="134.50" y2="233.10" stroke="#777777" stroke-width="1.7"/>
<text transform="translate(39.40 235.70) scale(0.75 1)" font-size="8.40" text-anchor="end" fill="#1a1a1a" stroke="#1a1a1a" stroke-width="0.133">40</text>
<line x1="43.00" y1="241.68" x2="134.50" y2="241.68" stroke="#777777" stroke-width="1.7"/>
<text transform="translate(39.40 244.28) scale(0.75 1)" font-size="8.40" text-anchor="end" fill="#1a1a1a" stroke="#1a1a1a" stroke-width="0.133">50</text>
<line x1="43.00" y1="250.25" x2="134.50" y2="250.25" stroke="#777777" stroke-width="1.7"/>
<text transform="translate(39.40 252.85) scale(0.75 1)" font-size="8.40" text-anchor="end" fill="#1a1a1a" stroke="#1a1a1a" stroke-width="0.133">60</text>
<line x1="43.00" y1="258.83" x2="134.50" y2="258.83" stroke="#777777" stroke-width="1.7"/>
<text transform="translate(39.40 261.43) scale(0.75 1)" font-size="8.40" text-anchor="end" fill="#1a1a1a" stroke="#1a1a1a" stroke-width="0.133">70</text>
<line x1="43.00" y1="267.40" x2="134.50" y2="267.40" stroke="#777777" stroke-width="1.7"/>
<text transform="translate(39.40 270.00) scale(0.75 1)" font-size="8.40" text-anchor="end" fill="#1a1a1a" stroke="#1a1a1a" stroke-width="0.133">80</text>
<line x1="43.00" y1="275.98" x2="134.50" y2="275.98" stroke="#777777" stroke-width="1.7"/>
<text transform="translate(39.40 278.58) scale(0.75 1)" font-size="8.40" text-anchor="end" fill="#1a1a1a" stroke="#1a1a1a" stroke-width="0.133">90</text>
<line x1="43.00" y1="284.55" x2="134.50" y2="284.55" stroke="#777777" stroke-width="1.7"/>
<text transform="translate(39.40 287.15) scale(0.75 1)" font-size="8.40" text-anchor="end" fill="#1a1a1a" stroke="#1a1a1a" stroke-width="0.133">100</text>
<line x1="43.00" y1="188.80" x2="43.00" y2="294.80" stroke="#777777" stroke-width="1.5"/>
<text transform="translate(43.00 304.00) scale(0.9 1)" font-size="8.89" text-anchor="middle" fill="#1a1a1a" stroke="#1a1a1a" stroke-width="0.333">0</text>
<line x1="61.30" y1="188.80" x2="61.30" y2="294.80" stroke="#777777" stroke-width="1.5"/>
<text transform="translate(61.30 304.00) scale(0.9 1)" font-size="8.89" text-anchor="middle" fill="#1a1a1a" stroke="#1a1a1a" stroke-width="0.333">1</text>
<line x1="79.60" y1="188.80" x2="79.60" y2="294.80" stroke="#777777" stroke-width="1.5"/>
<text transform="translate(79.60 304.00) scale(0.9 1)" font-size="8.89" text-anchor="middle" fill="#1a1a1a" stroke="#1a1a1a" stroke-width="0.333">2</text>
<line x1="97.90" y1="188.80" x2="97.90" y2="294.80" stroke="#777777" stroke-width="1.5"/>
<text transform="translate(97.90 304.00) scale(0.9 1)" font-size="8.89" text-anchor="middle" fill="#1a1a1a" stroke="#1a1a1a" stroke-width="0.333">3</text>
<line x1="116.20" y1="188.80" x2="116.20" y2="294.80" stroke="#777777" stroke-width="1.5"/>
<text transform="translate(116.20 304.00) scale(0.9 1)" font-size="8.89" text-anchor="middle" fill="#1a1a1a" stroke="#1a1a1a" stroke-width="0.333">4</text>
<line x1="134.50" y1="188.80" x2="134.50" y2="294.80" stroke="#777777" stroke-width="1.5"/>
<text transform="translate(134.50 304.00) scale(0.9 1)" font-size="8.89" text-anchor="middle" fill="#1a1a1a" stroke="#1a1a1a" stroke-width="0.333">5</text>
<line x1="52.50" y1="188.80" x2="52.50" y2="198.80" stroke="#777" stroke-width="0.7"/>
<text transform="translate(88.80 317.70) scale(0.9 1)" font-size="10.00" text-anchor="middle" fill="#1a1a1a" stroke="#1a1a1a" stroke-width="0.333">Time (min)</text>
<text transform="translate(24.40 242.00) rotate(-90) scale(0.9 1)" font-size="10.00" text-anchor="middle" fill="#1a1a1a" stroke="#1a1a1a" stroke-width="0.333" dominant-baseline="central">% aggregation</text>
<text transform="translate(52.70 252.00) rotate(-90) scale(0.8 1)" font-size="9.00" text-anchor="middle" fill="#1a1a1a" stroke="#1a1a1a" stroke-width="0.275" dominant-baseline="central">Convulxin (15 ng/mL)</text>
<line x1="52.50" y1="210.30" x2="52.50" y2="203.50" stroke="#1a1a1a" stroke-width="1"/>
<polygon points="52.50,200.00 54.10,203.50 50.90,203.50" fill="#1a1a1a"/>
<line x1="139.30" y1="254.30" x2="139.30" y2="284.60" stroke="#1a1a1a" stroke-width="1.2"/>
<line x1="136.30" y1="254.30" x2="141.80" y2="254.30" stroke="#1a1a1a" stroke-width="1.2"/>
<line x1="136.30" y1="284.60" x2="141.80" y2="284.60" stroke="#1a1a1a" stroke-width="1.2"/>
<text transform="translate(149.30 269.45) rotate(-90) scale(0.9 1)" font-size="9.11" text-anchor="middle" fill="#1a1a1a" stroke="#1a1a1a" stroke-width="0.333" dominant-baseline="central">ATP (1nM)</text>
<path d="M43.00,199.00 C44.00,199.00 47.42,198.70 49.00,199.00 C50.58,199.30 51.33,201.22 52.50,200.80 C53.67,200.38 54.83,198.05 56.00,196.50 C57.17,194.95 58.58,192.55 59.50,191.50 C60.42,190.45 60.83,190.03 61.50,190.20 C62.17,190.37 62.67,190.87 63.50,192.50 C64.33,194.13 65.08,195.67 66.50,200.00 C67.92,204.33 70.08,213.08 72.00,218.50 C73.92,223.92 76.17,228.85 78.00,232.50 C79.83,236.15 81.25,238.07 83.00,240.40 C84.75,242.73 86.05,244.07 88.50,246.50 C90.95,248.93 94.78,252.82 97.70,255.00 C100.62,257.18 102.03,257.93 106.00,259.60 C109.97,261.27 116.77,263.77 121.50,265.00 C126.23,266.23 132.25,266.67 134.40,267.00" fill="none" stroke="#707070" stroke-width="0.95"/>
<path d="M43.00,199.00 C44.00,199.00 47.42,198.70 49.00,199.00 C50.58,199.30 51.42,201.38 52.50,200.80 C53.58,200.22 54.58,196.60 55.50,195.50 C56.42,194.40 57.00,194.18 58.00,194.20 C59.00,194.22 60.33,195.77 61.50,195.60 C62.67,195.43 63.58,193.97 65.00,193.20 C66.42,192.43 68.17,191.53 70.00,191.00 C71.83,190.47 74.00,190.07 76.00,190.00 C78.00,189.93 79.67,190.02 82.00,190.60 C84.33,191.18 87.42,192.18 90.00,193.50 C92.58,194.82 94.83,196.42 97.50,198.50 C100.17,200.58 102.92,203.33 106.00,206.00 C109.08,208.67 112.83,211.92 116.00,214.50 C119.17,217.08 121.93,219.17 125.00,221.50 C128.07,223.83 132.83,227.33 134.40,228.50" fill="none" stroke="#707070" stroke-width="0.95"/>
<path d="M43.00,281.00 C44.50,281.00 49.67,281.08 52.00,281.00 C54.33,280.92 55.50,280.75 57.00,280.50 C58.50,280.25 59.17,281.08 61.00,279.50 C62.83,277.92 65.60,273.55 68.00,271.00 C70.40,268.45 72.90,266.87 75.40,264.20 C77.90,261.53 80.43,257.43 83.00,255.00 C85.57,252.57 88.73,250.70 90.80,249.60 C92.87,248.50 92.83,248.53 95.40,248.40 C97.97,248.27 101.85,248.47 106.20,248.80 C110.55,249.13 116.80,249.80 121.50,250.40 C126.20,251.00 132.25,252.07 134.40,252.40" fill="none" stroke="#707070" stroke-width="0.95"/>
<path d="M43.00,281.00 C44.50,281.00 49.17,281.12 52.00,281.00 C54.83,280.88 55.33,281.05 60.00,280.30 C64.67,279.55 73.58,277.88 80.00,276.50 C86.42,275.12 92.87,273.28 98.50,272.00 C104.13,270.72 107.82,269.72 113.80,268.80 C119.78,267.88 130.97,266.88 134.40,266.50" fill="none" stroke="#707070" stroke-width="0.95"/>
<text transform="translate(101.00 197.00) scale(0.9 1)" font-size="8.89" text-anchor="start" fill="#1a1a1a" stroke="#1a1a1a" stroke-width="0.333">Pf4-Cre/</text>
<text transform="translate(101.00 206.40) scale(0.9 1)" font-size="8.89" text-anchor="start" fill="#1a1a1a" stroke="#1a1a1a" stroke-width="0.333">ERp72<tspan font-size="6.04" baseline-shift="2.93">fl/fl</tspan></text>
<text transform="translate(85.60 230.80) scale(0.9 1)" font-size="8.89" text-anchor="start" fill="#1a1a1a" stroke="#1a1a1a" stroke-width="0.333">ERp72<tspan font-size="6.04" baseline-shift="2.93">fl/fl</tspan></text>
<line x1="93.50" y1="234.20" x2="89.76" y2="241.96" stroke="#1a1a1a" stroke-width="1"/>
<polygon points="88.20,245.20 88.23,241.22 91.29,242.69" fill="#1a1a1a"/>
<line x1="98.50" y1="234.20" x2="102.95" y2="242.80" stroke="#1a1a1a" stroke-width="1"/>
<polygon points="104.60,246.00 101.44,243.58 104.46,242.02" fill="#1a1a1a"/>
<text transform="translate(81.60 283.20) scale(0.9 1)" font-size="8.89" text-anchor="start" fill="#1a1a1a" stroke="#1a1a1a" stroke-width="0.333">Pf4-Cre/</text>
<text transform="translate(81.60 292.00) scale(0.9 1)" font-size="8.89" text-anchor="start" fill="#1a1a1a" stroke="#1a1a1a" stroke-width="0.333">ERp72<tspan font-size="6.04" baseline-shift="2.93">fl/fl</tspan></text>
<line x1="44.60" y1="342.80" x2="135.10" y2="342.80" stroke="#777777" stroke-width="1.7"/>
<line x1="44.60" y1="448.30" x2="135.10" y2="448.30" stroke="#777777" stroke-width="1.7"/>
<line x1="44.60" y1="353.60" x2="135.10" y2="353.60" stroke="#777777" stroke-width="1.7"/>
<text transform="translate(41.00 356.20) scale(0.75 1)" font-size="8.40" text-anchor="end" fill="#1a1a1a" stroke="#1a1a1a" stroke-width="0.133">0</text>
<line x1="44.60" y1="362.08" x2="135.10" y2="362.08" stroke="#777777" stroke-width="1.7"/>
<text transform="translate(41.00 364.68) scale(0.75 1)" font-size="8.40" text-anchor="end" fill="#1a1a1a" stroke="#1a1a1a" stroke-width="0.133">10</text>
<line x1="44.60" y1="370.55" x2="135.10" y2="370.55" stroke="#777777" stroke-width="1.7"/>
<text transform="translate(41.00 373.15) scale(0.75 1)" font-size="8.40" text-anchor="end" fill="#1a1a1a" stroke="#1a1a1a" stroke-width="0.133">20</text>
<line x1="44.60" y1="379.03" x2="135.10" y2="379.03" stroke="#777777" stroke-width="1.7"/>
<text transform="translate(41.00 381.63) scale(0.75 1)" font-size="8.40" text-anchor="end" fill="#1a1a1a" stroke="#1a1a1a" stroke-width="0.133">30</text>
<line x1="44.60" y1="387.50" x2="135.10" y2="387.50" stroke="#777777" stroke-width="1.7"/>
<text transform="translate(41.00 390.10) scale(0.75 1)" font-size="8.40" text-anchor="end" fill="#1a1a1a" stroke="#1a1a1a" stroke-width="0.133">40</text>
<line x1="44.60" y1="395.98" x2="135.10" y2="395.98" stroke="#777777" stroke-width="1.7"/>
<text transform="translate(41.00 398.58) scale(0.75 1)" font-size="8.40" text-anchor="end" fill="#1a1a1a" stroke="#1a1a1a" stroke-width="0.133">50</text>
<line x1="44.60" y1="404.45" x2="135.10" y2="404.45" stroke="#777777" stroke-width="1.7"/>
<text transform="translate(41.00 407.05) scale(0.75 1)" font-size="8.40" text-anchor="end" fill="#1a1a1a" stroke="#1a1a1a" stroke-width="0.133">60</text>
<line x1="44.60" y1="412.93" x2="135.10" y2="412.93" stroke="#777777" stroke-width="1.7"/>
<text transform="translate(41.00 415.53) scale(0.75 1)" font-size="8.40" text-anchor="end" fill="#1a1a1a" stroke="#1a1a1a" stroke-width="0.133">70</text>
<line x1="44.60" y1="421.40" x2="135.10" y2="421.40" stroke="#777777" stroke-width="1.7"/>
<text transform="translate(41.00 424.00) scale(0.75 1)" font-size="8.40" text-anchor="end" fill="#1a1a1a" stroke="#1a1a1a" stroke-width="0.133">80</text>
<line x1="44.60" y1="429.88" x2="135.10" y2="429.88" stroke="#777777" stroke-width="1.7"/>
<text transform="translate(41.00 432.48) scale(0.75 1)" font-size="8.40" text-anchor="end" fill="#1a1a1a" stroke="#1a1a1a" stroke-width="0.133">90</text>
<line x1="44.60" y1="438.35" x2="135.10" y2="438.35" stroke="#777777" stroke-width="1.7"/>
<text transform="translate(41.00 440.95) scale(0.75 1)" font-size="8.40" text-anchor="end" fill="#1a1a1a" stroke="#1a1a1a" stroke-width="0.133">100</text>
<line x1="44.60" y1="342.80" x2="44.60" y2="448.30" stroke="#777777" stroke-width="1.5"/>
<text transform="translate(44.60 457.50) scale(0.9 1)" font-size="8.89" text-anchor="middle" fill="#1a1a1a" stroke="#1a1a1a" stroke-width="0.333">0</text>
<line x1="62.70" y1="342.80" x2="62.70" y2="448.30" stroke="#777777" stroke-width="1.5"/>
<text transform="translate(62.70 457.50) scale(0.9 1)" font-size="8.89" text-anchor="middle" fill="#1a1a1a" stroke="#1a1a1a" stroke-width="0.333">1</text>
<line x1="80.80" y1="342.80" x2="80.80" y2="448.30" stroke="#777777" stroke-width="1.5"/>
<text transform="translate(80.80 457.50) scale(0.9 1)" font-size="8.89" text-anchor="middle" fill="#1a1a1a" stroke="#1a1a1a" stroke-width="0.333">2</text>
<line x1="98.90" y1="342.80" x2="98.90" y2="448.30" stroke="#777777" stroke-width="1.5"/>
<text transform="translate(98.90 457.50) scale(0.9 1)" font-size="8.89" text-anchor="middle" fill="#1a1a1a" stroke="#1a1a1a" stroke-width="0.333">3</text>
<line x1="117.00" y1="342.80" x2="117.00" y2="448.30" stroke="#777777" stroke-width="1.5"/>
<text transform="translate(117.00 457.50) scale(0.9 1)" font-size="8.89" text-anchor="middle" fill="#1a1a1a" stroke="#1a1a1a" stroke-width="0.333">4</text>
<line x1="135.10" y1="342.80" x2="135.10" y2="448.30" stroke="#777777" stroke-width="1.5"/>
<text transform="translate(135.10 457.50) scale(0.9 1)" font-size="8.89" text-anchor="middle" fill="#1a1a1a" stroke="#1a1a1a" stroke-width="0.333">5</text>
<line x1="54.10" y1="342.80" x2="54.10" y2="353.60" stroke="#777" stroke-width="0.7"/>
<text transform="translate(90.40 471.20) scale(0.9 1)" font-size="10.00" text-anchor="middle" fill="#1a1a1a" stroke="#1a1a1a" stroke-width="0.333">Time (min)</text>
<text transform="translate(25.30 396.00) rotate(-90) scale(0.9 1)" font-size="10.00" text-anchor="middle" fill="#1a1a1a" stroke="#1a1a1a" stroke-width="0.333" dominant-baseline="central">% aggregation</text>
<text transform="translate(54.40 402.50) rotate(-90) scale(0.8 1)" font-size="10.00" text-anchor="middle" fill="#1a1a1a" stroke="#1a1a1a" stroke-width="0.275" dominant-baseline="central">Thrombin (0.025 U/mL)</text>
<line x1="54.10" y1="365.10" x2="54.10" y2="358.30" stroke="#1a1a1a" stroke-width="1"/>
<polygon points="54.10,354.80 55.70,358.30 52.50,358.30" fill="#1a1a1a"/>
<line x1="139.30" y1="408.80" x2="139.30" y2="438.80" stroke="#1a1a1a" stroke-width="1.2"/>
<line x1="136.30" y1="408.80" x2="141.80" y2="408.80" stroke="#1a1a1a" stroke-width="1.2"/>
<line x1="136.30" y1="438.80" x2="141.80" y2="438.80" stroke="#1a1a1a" stroke-width="1.2"/>
<text transform="translate(149.30 423.80) rotate(-90) scale(0.9 1)" font-size="9.11" text-anchor="middle" fill="#1a1a1a" stroke="#1a1a1a" stroke-width="0.333" dominant-baseline="central">ATP (1nM)</text>
<path d="M44.60,353.60 C45.58,353.60 49.10,353.28 50.50,353.60 C51.90,353.92 52.17,355.93 53.00,355.50 C53.83,355.07 54.67,352.67 55.50,351.00 C56.33,349.33 57.00,346.90 58.00,345.50 C59.00,344.10 60.50,343.02 61.50,342.60 C62.50,342.18 63.00,342.27 64.00,343.00 C65.00,343.73 66.22,345.58 67.50,347.00 C68.78,348.42 70.20,349.00 71.70,351.50 C73.20,354.00 74.90,358.63 76.50,362.00 C78.10,365.37 79.68,368.82 81.30,371.70 C82.92,374.58 84.42,376.75 86.20,379.30 C87.98,381.85 90.08,384.58 92.00,387.00 C93.92,389.42 95.12,391.63 97.70,393.80 C100.28,395.97 104.20,398.05 107.50,400.00 C110.80,401.95 112.90,403.67 117.50,405.50 C122.10,407.33 132.17,410.08 135.10,411.00" fill="none" stroke="#707070" stroke-width="0.95"/>
<path d="M44.60,353.60 C45.58,353.60 49.10,353.28 50.50,353.60 C51.90,353.92 52.17,356.10 53.00,355.50 C53.83,354.90 54.67,351.67 55.50,350.00 C56.33,348.33 57.00,346.70 58.00,345.50 C59.00,344.30 60.17,343.28 61.50,342.80 C62.83,342.32 63.17,342.28 66.00,342.60 C68.83,342.92 73.87,343.55 78.50,344.70 C83.13,345.85 89.63,347.57 93.80,349.50 C97.97,351.43 99.97,353.72 103.50,356.30 C107.03,358.88 111.17,362.28 115.00,365.00 C118.83,367.72 123.15,370.53 126.50,372.60 C129.85,374.67 133.67,376.60 135.10,377.40" fill="none" stroke="#707070" stroke-width="0.95"/>
<path d="M44.60,435.50 C46.33,435.50 52.57,435.58 55.00,435.50 C57.43,435.42 57.87,436.62 59.20,435.00 C60.53,433.38 61.87,428.93 63.00,425.80 C64.13,422.67 64.87,419.25 66.00,416.20 C67.13,413.15 68.37,409.43 69.80,407.50 C71.23,405.57 72.83,405.23 74.60,404.60 C76.37,403.97 77.83,403.53 80.40,403.70 C82.97,403.87 86.48,404.65 90.00,405.60 C93.52,406.55 97.00,408.28 101.50,409.40 C106.00,410.52 111.40,411.40 117.00,412.30 C122.60,413.20 132.08,414.38 135.10,414.80" fill="none" stroke="#707070" stroke-width="0.95"/>
<path d="M44.60,435.80 C47.67,435.42 55.77,434.53 63.00,433.50 C70.23,432.47 79.00,431.37 88.00,429.60 C97.00,427.83 109.15,424.50 117.00,422.90 C124.85,421.30 132.08,420.48 135.10,420.00" fill="none" stroke="#707070" stroke-width="0.95"/>
<text transform="translate(100.60 351.50) scale(0.9 1)" font-size="8.89" text-anchor="start" fill="#1a1a1a" stroke="#1a1a1a" stroke-width="0.333">Pf4-Cre/</text>
<text transform="translate(100.60 360.80) scale(0.9 1)" font-size="8.89" text-anchor="start" fill="#1a1a1a" stroke="#1a1a1a" stroke-width="0.333">ERp72<tspan font-size="6.04" baseline-shift="2.93">fl/fl</tspan></text>
<text transform="translate(90.00 386.00) scale(0.9 1)" font-size="8.89" text-anchor="start" fill="#1a1a1a" stroke="#1a1a1a" stroke-width="0.333">ERp72<tspan font-size="6.04" baseline-shift="2.93">fl/fl</tspan></text>
<text transform="translate(71.70 415.20) scale(0.9 1)" font-size="8.89" text-anchor="start" fill="#1a1a1a" stroke="#1a1a1a" stroke-width="0.333">ERp72<tspan font-size="6.04" baseline-shift="2.93">fl/fl</tspan></text>
<text transform="translate(85.20 438.30) scale(0.9 1)" font-size="8.89" text-anchor="start" fill="#1a1a1a" stroke="#1a1a1a" stroke-width="0.333">Pf4-Cre/</text>
<text transform="translate(85.20 447.20) scale(0.9 1)" font-size="8.89" text-anchor="start" fill="#1a1a1a" stroke="#1a1a1a" stroke-width="0.333">ERp72<tspan font-size="6.04" baseline-shift="2.93">fl/fl</tspan></text>
<line x1="201.30" y1="190.10" x2="201.30" y2="276.60" stroke="#1a1a1a" stroke-width="1.6"/>
<line x1="200.50" y1="275.80" x2="250.30" y2="275.80" stroke="#1a1a1a" stroke-width="1.6"/>
<line x1="198.70" y1="275.80" x2="201.30" y2="275.80" stroke="#1a1a1a" stroke-width="1.0"/>
<text transform="translate(195.30 278.50) scale(0.93 1)" font-size="8.06" text-anchor="end" fill="#1a1a1a" stroke="#1a1a1a" stroke-width="0.323">0</text>
<line x1="198.70" y1="259.18" x2="201.30" y2="259.18" stroke="#1a1a1a" stroke-width="1.0"/>
<text transform="translate(195.30 261.88) scale(0.93 1)" font-size="8.06" text-anchor="end" fill="#1a1a1a" stroke="#1a1a1a" stroke-width="0.323">25</text>
<line x1="198.70" y1="242.56" x2="201.30" y2="242.56" stroke="#1a1a1a" stroke-width="1.0"/>
<text transform="translate(195.30 245.26) scale(0.93 1)" font-size="8.06" text-anchor="end" fill="#1a1a1a" stroke="#1a1a1a" stroke-width="0.323">50</text>
<line x1="198.70" y1="225.94" x2="201.30" y2="225.94" stroke="#1a1a1a" stroke-width="1.0"/>
<text transform="translate(195.30 228.64) scale(0.93 1)" font-size="8.06" text-anchor="end" fill="#1a1a1a" stroke="#1a1a1a" stroke-width="0.323">75</text>
<line x1="198.70" y1="209.32" x2="201.30" y2="209.32" stroke="#1a1a1a" stroke-width="1.0"/>
<text transform="translate(195.30 212.02) scale(0.93 1)" font-size="8.06" text-anchor="end" fill="#1a1a1a" stroke="#1a1a1a" stroke-width="0.323">100</text>
<line x1="198.70" y1="192.70" x2="201.30" y2="192.70" stroke="#1a1a1a" stroke-width="1.0"/>
<text transform="translate(195.30 195.40) scale(0.93 1)" font-size="8.06" text-anchor="end" fill="#1a1a1a" stroke="#1a1a1a" stroke-width="0.323">125</text>
<rect x="207.20" y="209.32" width="12.90" height="66.48" fill="#ab022d" stroke="#7e0020" stroke-width="0.6"/>
<rect x="232.20" y="241.70" width="12.40" height="34.10" fill="#2c4b8a" stroke="#1d3160" stroke-width="0.6"/>
<line x1="238.40" y1="241.70" x2="238.40" y2="235.78" stroke="#222" stroke-width="1.1"/>
<line x1="234.68" y1="235.78" x2="242.12" y2="235.78" stroke="#222" stroke-width="1.1"/>
<line x1="213.40" y1="202.80" x2="242.00" y2="202.80" stroke="#333" stroke-width="1.3"/>
<circle cx="227.70" cy="198.00" r="1.15" fill="#111"/>
<text transform="translate(174.20 232.50) rotate(-90) scale(0.9 1)" font-size="10.00" text-anchor="middle" fill="#1a1a1a" stroke="#1a1a1a" stroke-width="0.333" dominant-baseline="central">% aggregation</text>
<text transform="translate(205.15 294.00) rotate(-45) scale(0.9 1)" font-size="9.44" text-anchor="middle" fill="#1a1a1a" stroke="#1a1a1a" stroke-width="0.333" dominant-baseline="central">ERp72<tspan font-size="6.42" baseline-shift="3.12">fl/fl</tspan></text>
<text transform="translate(231.10 294.00) rotate(-45) scale(0.9 1)" font-size="9.44" text-anchor="middle" fill="#1a1a1a" stroke="#1a1a1a" stroke-width="0.333" dominant-baseline="central">Pf4-Cre/</text>
<text transform="translate(236.70 301.10) rotate(-45) scale(0.9 1)" font-size="9.44" text-anchor="middle" fill="#1a1a1a" stroke="#1a1a1a" stroke-width="0.333" dominant-baseline="central">ERp72<tspan font-size="6.42" baseline-shift="3.12">fl/fl</tspan></text>
<line x1="300.60" y1="188.60" x2="300.60" y2="276.60" stroke="#1a1a1a" stroke-width="1.6"/>
<line x1="299.80" y1="275.80" x2="349.60" y2="275.80" stroke="#1a1a1a" stroke-width="1.6"/>
<line x1="298.00" y1="275.80" x2="300.60" y2="275.80" stroke="#1a1a1a" stroke-width="1.0"/>
<text transform="translate(294.60 278.50) scale(0.93 1)" font-size="8.06" text-anchor="end" fill="#1a1a1a" stroke="#1a1a1a" stroke-width="0.323">0</text>
<line x1="298.00" y1="259.04" x2="300.60" y2="259.04" stroke="#1a1a1a" stroke-width="1.0"/>
<text transform="translate(294.60 261.74) scale(0.93 1)" font-size="8.06" text-anchor="end" fill="#1a1a1a" stroke="#1a1a1a" stroke-width="0.323">25</text>
<line x1="298.00" y1="242.28" x2="300.60" y2="242.28" stroke="#1a1a1a" stroke-width="1.0"/>
<text transform="translate(294.60 244.98) scale(0.93 1)" font-size="8.06" text-anchor="end" fill="#1a1a1a" stroke="#1a1a1a" stroke-width="0.323">50</text>
<line x1="298.00" y1="225.52" x2="300.60" y2="225.52" stroke="#1a1a1a" stroke-width="1.0"/>
<text transform="translate(294.60 228.22) scale(0.93 1)" font-size="8.06" text-anchor="end" fill="#1a1a1a" stroke="#1a1a1a" stroke-width="0.323">75</text>
<line x1="298.00" y1="208.76" x2="300.60" y2="208.76" stroke="#1a1a1a" stroke-width="1.0"/>
<text transform="translate(294.60 211.46) scale(0.93 1)" font-size="8.06" text-anchor="end" fill="#1a1a1a" stroke="#1a1a1a" stroke-width="0.323">100</text>
<line x1="298.00" y1="192.00" x2="300.60" y2="192.00" stroke="#1a1a1a" stroke-width="1.0"/>
<text transform="translate(294.60 194.70) scale(0.93 1)" font-size="8.06" text-anchor="end" fill="#1a1a1a" stroke="#1a1a1a" stroke-width="0.323">125</text>
<rect x="306.60" y="208.76" width="12.90" height="67.04" fill="#ab022d" stroke="#7e0020" stroke-width="0.6"/>
<rect x="330.80" y="246.57" width="12.90" height="29.23" fill="#2c4b8a" stroke="#1d3160" stroke-width="0.6"/>
<line x1="337.25" y1="246.57" x2="337.25" y2="242.15" stroke="#222" stroke-width="1.1"/>
<line x1="333.38" y1="242.15" x2="341.12" y2="242.15" stroke="#222" stroke-width="1.1"/>
<line x1="310.40" y1="202.80" x2="338.80" y2="202.80" stroke="#333" stroke-width="1.3"/>
<circle cx="324.60" cy="198.00" r="1.15" fill="#111"/>
<text transform="translate(272.20 232.50) rotate(-90) scale(0.9 1)" font-size="10.00" text-anchor="middle" fill="#1a1a1a" stroke="#1a1a1a" stroke-width="0.333" dominant-baseline="central">% ATP release</text>
<text transform="translate(304.55 294.00) rotate(-45) scale(0.9 1)" font-size="9.44" text-anchor="middle" fill="#1a1a1a" stroke="#1a1a1a" stroke-width="0.333" dominant-baseline="central">ERp72<tspan font-size="6.42" baseline-shift="3.12">fl/fl</tspan></text>
<text transform="translate(329.95 294.00) rotate(-45) scale(0.9 1)" font-size="9.44" text-anchor="middle" fill="#1a1a1a" stroke="#1a1a1a" stroke-width="0.333" dominant-baseline="central">Pf4-Cre/</text>
<text transform="translate(335.55 301.10) rotate(-45) scale(0.9 1)" font-size="9.44" text-anchor="middle" fill="#1a1a1a" stroke="#1a1a1a" stroke-width="0.333" dominant-baseline="central">ERp72<tspan font-size="6.42" baseline-shift="3.12">fl/fl</tspan></text>
<line x1="202.00" y1="344.20" x2="202.00" y2="431.40" stroke="#1a1a1a" stroke-width="1.6"/>
<line x1="201.20" y1="430.60" x2="250.80" y2="430.60" stroke="#1a1a1a" stroke-width="1.6"/>
<line x1="199.40" y1="430.60" x2="202.00" y2="430.60" stroke="#1a1a1a" stroke-width="1.0"/>
<text transform="translate(196.00 433.30) scale(0.93 1)" font-size="8.06" text-anchor="end" fill="#1a1a1a" stroke="#1a1a1a" stroke-width="0.323">0</text>
<line x1="199.40" y1="413.68" x2="202.00" y2="413.68" stroke="#1a1a1a" stroke-width="1.0"/>
<text transform="translate(196.00 416.38) scale(0.93 1)" font-size="8.06" text-anchor="end" fill="#1a1a1a" stroke="#1a1a1a" stroke-width="0.323">25</text>
<line x1="199.40" y1="396.76" x2="202.00" y2="396.76" stroke="#1a1a1a" stroke-width="1.0"/>
<text transform="translate(196.00 399.46) scale(0.93 1)" font-size="8.06" text-anchor="end" fill="#1a1a1a" stroke="#1a1a1a" stroke-width="0.323">50</text>
<line x1="199.40" y1="379.84" x2="202.00" y2="379.84" stroke="#1a1a1a" stroke-width="1.0"/>
<text transform="translate(196.00 382.54) scale(0.93 1)" font-size="8.06" text-anchor="end" fill="#1a1a1a" stroke="#1a1a1a" stroke-width="0.323">75</text>
<line x1="199.40" y1="362.92" x2="202.00" y2="362.92" stroke="#1a1a1a" stroke-width="1.0"/>
<text transform="translate(196.00 365.62) scale(0.93 1)" font-size="8.06" text-anchor="end" fill="#1a1a1a" stroke="#1a1a1a" stroke-width="0.323">100</text>
<line x1="199.40" y1="346.00" x2="202.00" y2="346.00" stroke="#1a1a1a" stroke-width="1.0"/>
<text transform="translate(196.00 348.70) scale(0.93 1)" font-size="8.06" text-anchor="end" fill="#1a1a1a" stroke="#1a1a1a" stroke-width="0.323">125</text>
<rect x="207.70" y="362.92" width="12.90" height="67.68" fill="#ab022d" stroke="#7e0020" stroke-width="0.6"/>
<rect x="233.00" y="395.27" width="12.10" height="35.33" fill="#2c4b8a" stroke="#1d3160" stroke-width="0.6"/>
<line x1="239.05" y1="395.27" x2="239.05" y2="391.07" stroke="#222" stroke-width="1.1"/>
<line x1="235.42" y1="391.07" x2="242.68" y2="391.07" stroke="#222" stroke-width="1.1"/>
<line x1="213.60" y1="356.60" x2="242.00" y2="356.60" stroke="#333" stroke-width="1.3"/>
<circle cx="227.80" cy="351.80" r="1.15" fill="#111"/>
<text transform="translate(174.20 386.70) rotate(-90) scale(0.9 1)" font-size="10.00" text-anchor="middle" fill="#1a1a1a" stroke="#1a1a1a" stroke-width="0.333" dominant-baseline="central">% aggregation</text>
<text transform="translate(205.65 448.80) rotate(-45) scale(0.9 1)" font-size="9.44" text-anchor="middle" fill="#1a1a1a" stroke="#1a1a1a" stroke-width="0.333" dominant-baseline="central">ERp72<tspan font-size="6.42" baseline-shift="3.12">fl/fl</tspan></text>
<text transform="translate(231.75 448.80) rotate(-45) scale(0.9 1)" font-size="9.44" text-anchor="middle" fill="#1a1a1a" stroke="#1a1a1a" stroke-width="0.333" dominant-baseline="central">Pf4-Cre/</text>
<text transform="translate(237.35 455.90) rotate(-45) scale(0.9 1)" font-size="9.44" text-anchor="middle" fill="#1a1a1a" stroke="#1a1a1a" stroke-width="0.333" dominant-baseline="central">ERp72<tspan font-size="6.42" baseline-shift="3.12">fl/fl</tspan></text>
<line x1="301.70" y1="344.20" x2="301.70" y2="430.80" stroke="#1a1a1a" stroke-width="1.6"/>
<line x1="300.90" y1="430.00" x2="351.20" y2="430.00" stroke="#1a1a1a" stroke-width="1.6"/>
<line x1="299.10" y1="430.00" x2="301.70" y2="430.00" stroke="#1a1a1a" stroke-width="1.0"/>
<text transform="translate(295.70 432.70) scale(0.93 1)" font-size="8.06" text-anchor="end" fill="#1a1a1a" stroke="#1a1a1a" stroke-width="0.323">0</text>
<line x1="299.10" y1="413.20" x2="301.70" y2="413.20" stroke="#1a1a1a" stroke-width="1.0"/>
<text transform="translate(295.70 415.90) scale(0.93 1)" font-size="8.06" text-anchor="end" fill="#1a1a1a" stroke="#1a1a1a" stroke-width="0.323">25</text>
<line x1="299.10" y1="396.40" x2="301.70" y2="396.40" stroke="#1a1a1a" stroke-width="1.0"/>
<text transform="translate(295.70 399.10) scale(0.93 1)" font-size="8.06" text-anchor="end" fill="#1a1a1a" stroke="#1a1a1a" stroke-width="0.323">50</text>
<line x1="299.10" y1="379.60" x2="301.70" y2="379.60" stroke="#1a1a1a" stroke-width="1.0"/>
<text transform="translate(295.70 382.30) scale(0.93 1)" font-size="8.06" text-anchor="end" fill="#1a1a1a" stroke="#1a1a1a" stroke-width="0.323">75</text>
<line x1="299.10" y1="362.80" x2="301.70" y2="362.80" stroke="#1a1a1a" stroke-width="1.0"/>
<text transform="translate(295.70 365.50) scale(0.93 1)" font-size="8.06" text-anchor="end" fill="#1a1a1a" stroke="#1a1a1a" stroke-width="0.323">100</text>
<line x1="299.10" y1="346.00" x2="301.70" y2="346.00" stroke="#1a1a1a" stroke-width="1.0"/>
<text transform="translate(295.70 348.70) scale(0.93 1)" font-size="8.06" text-anchor="end" fill="#1a1a1a" stroke="#1a1a1a" stroke-width="0.323">125</text>
<rect x="307.40" y="362.80" width="12.90" height="67.20" fill="#ab022d" stroke="#7e0020" stroke-width="0.6"/>
<rect x="331.90" y="400.97" width="12.90" height="29.03" fill="#2c4b8a" stroke="#1d3160" stroke-width="0.6"/>
<line x1="338.35" y1="400.97" x2="338.35" y2="398.35" stroke="#222" stroke-width="1.1"/>
<line x1="334.48" y1="398.35" x2="342.22" y2="398.35" stroke="#222" stroke-width="1.1"/>
<line x1="312.00" y1="355.00" x2="340.20" y2="355.00" stroke="#333" stroke-width="1.3"/>
<circle cx="324.30" cy="350.20" r="1.15" fill="#111"/>
<circle cx="327.90" cy="350.20" r="1.15" fill="#111"/>
<text transform="translate(273.90 387.00) rotate(-90) scale(0.9 1)" font-size="10.00" text-anchor="middle" fill="#1a1a1a" stroke="#1a1a1a" stroke-width="0.333" dominant-baseline="central">% ATP release</text>
<text transform="translate(305.35 448.20) rotate(-45) scale(0.9 1)" font-size="9.44" text-anchor="middle" fill="#1a1a1a" stroke="#1a1a1a" stroke-width="0.333" dominant-baseline="central">ERp72<tspan font-size="6.42" baseline-shift="3.12">fl/fl</tspan></text>
<text transform="translate(331.05 448.20) rotate(-45) scale(0.9 1)" font-size="9.44" text-anchor="middle" fill="#1a1a1a" stroke="#1a1a1a" stroke-width="0.333" dominant-baseline="central">Pf4-Cre/</text>
<text transform="translate(336.65 455.30) rotate(-45) scale(0.9 1)" font-size="9.44" text-anchor="middle" fill="#1a1a1a" stroke="#1a1a1a" stroke-width="0.333" dominant-baseline="central">ERp72<tspan font-size="6.42" baseline-shift="3.12">fl/fl</tspan></text>
<rect x="42.90" y="499.80" width="84.60" height="84.40" fill="none" stroke="#1a1a1a" stroke-width="1.6"/>
<line x1="40.10" y1="583.30" x2="42.90" y2="583.30" stroke="#1a1a1a" stroke-width="1.0"/>
<text transform="translate(37.30 586.10) scale(0.93 1)" font-size="8.39" text-anchor="end" fill="#1a1a1a" stroke="#1a1a1a" stroke-width="0.323">0</text>
<line x1="40.10" y1="566.72" x2="42.90" y2="566.72" stroke="#1a1a1a" stroke-width="1.0"/>
<text transform="translate(37.30 569.52) scale(0.93 1)" font-size="8.39" text-anchor="end" fill="#1a1a1a" stroke="#1a1a1a" stroke-width="0.323">30</text>
<line x1="40.10" y1="550.14" x2="42.90" y2="550.14" stroke="#1a1a1a" stroke-width="1.0"/>
<text transform="translate(37.30 552.94) scale(0.93 1)" font-size="8.39" text-anchor="end" fill="#1a1a1a" stroke="#1a1a1a" stroke-width="0.323">60</text>
<line x1="40.10" y1="533.56" x2="42.90" y2="533.56" stroke="#1a1a1a" stroke-width="1.0"/>
<text transform="translate(37.30 536.36) scale(0.93 1)" font-size="8.39" text-anchor="end" fill="#1a1a1a" stroke="#1a1a1a" stroke-width="0.323">90</text>
<line x1="40.10" y1="516.98" x2="42.90" y2="516.98" stroke="#1a1a1a" stroke-width="1.0"/>
<text transform="translate(37.30 519.78) scale(0.93 1)" font-size="8.39" text-anchor="end" fill="#1a1a1a" stroke="#1a1a1a" stroke-width="0.323">120</text>
<line x1="40.10" y1="500.39" x2="42.90" y2="500.39" stroke="#1a1a1a" stroke-width="1.0"/>
<text transform="translate(37.30 503.19) scale(0.93 1)" font-size="8.39" text-anchor="end" fill="#1a1a1a" stroke="#1a1a1a" stroke-width="0.323">150</text>
<line x1="41.50" y1="577.77" x2="42.90" y2="577.77" stroke="#1a1a1a" stroke-width="0.8"/>
<line x1="41.50" y1="572.25" x2="42.90" y2="572.25" stroke="#1a1a1a" stroke-width="0.8"/>
<line x1="41.50" y1="561.19" x2="42.90" y2="561.19" stroke="#1a1a1a" stroke-width="0.8"/>
<line x1="41.50" y1="555.66" x2="42.90" y2="555.66" stroke="#1a1a1a" stroke-width="0.8"/>
<line x1="41.50" y1="544.61" x2="42.90" y2="544.61" stroke="#1a1a1a" stroke-width="0.8"/>
<line x1="41.50" y1="539.08" x2="42.90" y2="539.08" stroke="#1a1a1a" stroke-width="0.8"/>
<line x1="41.50" y1="528.03" x2="42.90" y2="528.03" stroke="#1a1a1a" stroke-width="0.8"/>
<line x1="41.50" y1="522.50" x2="42.90" y2="522.50" stroke="#1a1a1a" stroke-width="0.8"/>
<line x1="41.50" y1="511.45" x2="42.90" y2="511.45" stroke="#1a1a1a" stroke-width="0.8"/>
<line x1="41.50" y1="505.92" x2="42.90" y2="505.92" stroke="#1a1a1a" stroke-width="0.8"/>
<line x1="42.90" y1="584.20" x2="42.90" y2="586.70" stroke="#1a1a1a" stroke-width="1.0"/>
<text transform="translate(43.50 596.80) scale(0.93 1)" font-size="8.39" text-anchor="middle" fill="#1a1a1a" stroke="#1a1a1a" stroke-width="0.323">10<tspan font-size="5.81" dy="-3.2">0</tspan></text>
<line x1="49.27" y1="584.20" x2="49.27" y2="585.50" stroke="#1a1a1a" stroke-width="0.6"/>
<line x1="52.99" y1="584.20" x2="52.99" y2="585.50" stroke="#1a1a1a" stroke-width="0.6"/>
<line x1="55.63" y1="584.20" x2="55.63" y2="585.50" stroke="#1a1a1a" stroke-width="0.6"/>
<line x1="57.68" y1="584.20" x2="57.68" y2="585.50" stroke="#1a1a1a" stroke-width="0.6"/>
<line x1="59.36" y1="584.20" x2="59.36" y2="585.50" stroke="#1a1a1a" stroke-width="0.6"/>
<line x1="60.77" y1="584.20" x2="60.77" y2="585.50" stroke="#1a1a1a" stroke-width="0.6"/>
<line x1="62.00" y1="584.20" x2="62.00" y2="585.50" stroke="#1a1a1a" stroke-width="0.6"/>
<line x1="63.08" y1="584.20" x2="63.08" y2="585.50" stroke="#1a1a1a" stroke-width="0.6"/>
<line x1="64.05" y1="584.20" x2="64.05" y2="586.70" stroke="#1a1a1a" stroke-width="1.0"/>
<text transform="translate(64.65 596.80) scale(0.93 1)" font-size="8.39" text-anchor="middle" fill="#1a1a1a" stroke="#1a1a1a" stroke-width="0.323">10<tspan font-size="5.81" dy="-3.2">1</tspan></text>
<line x1="70.42" y1="584.20" x2="70.42" y2="585.50" stroke="#1a1a1a" stroke-width="0.6"/>
<line x1="74.14" y1="584.20" x2="74.14" y2="585.50" stroke="#1a1a1a" stroke-width="0.6"/>
<line x1="76.78" y1="584.20" x2="76.78" y2="585.50" stroke="#1a1a1a" stroke-width="0.6"/>
<line x1="78.83" y1="584.20" x2="78.83" y2="585.50" stroke="#1a1a1a" stroke-width="0.6"/>
<line x1="80.51" y1="584.20" x2="80.51" y2="585.50" stroke="#1a1a1a" stroke-width="0.6"/>
<line x1="81.92" y1="584.20" x2="81.92" y2="585.50" stroke="#1a1a1a" stroke-width="0.6"/>
<line x1="83.15" y1="584.20" x2="83.15" y2="585.50" stroke="#1a1a1a" stroke-width="0.6"/>
<line x1="84.23" y1="584.20" x2="84.23" y2="585.50" stroke="#1a1a1a" stroke-width="0.6"/>
<line x1="85.20" y1="584.20" x2="85.20" y2="586.70" stroke="#1a1a1a" stroke-width="1.0"/>
<text transform="translate(85.80 596.80) scale(0.93 1)" font-size="8.39" text-anchor="middle" fill="#1a1a1a" stroke="#1a1a1a" stroke-width="0.323">10<tspan font-size="5.81" dy="-3.2">2</tspan></text>
<line x1="91.57" y1="584.20" x2="91.57" y2="585.50" stroke="#1a1a1a" stroke-width="0.6"/>
<line x1="95.29" y1="584.20" x2="95.29" y2="585.50" stroke="#1a1a1a" stroke-width="0.6"/>
<line x1="97.93" y1="584.20" x2="97.93" y2="585.50" stroke="#1a1a1a" stroke-width="0.6"/>
<line x1="99.98" y1="584.20" x2="99.98" y2="585.50" stroke="#1a1a1a" stroke-width="0.6"/>
<line x1="101.66" y1="584.20" x2="101.66" y2="585.50" stroke="#1a1a1a" stroke-width="0.6"/>
<line x1="103.07" y1="584.20" x2="103.07" y2="585.50" stroke="#1a1a1a" stroke-width="0.6"/>
<line x1="104.30" y1="584.20" x2="104.30" y2="585.50" stroke="#1a1a1a" stroke-width="0.6"/>
<line x1="105.38" y1="584.20" x2="105.38" y2="585.50" stroke="#1a1a1a" stroke-width="0.6"/>
<line x1="106.35" y1="584.20" x2="106.35" y2="586.70" stroke="#1a1a1a" stroke-width="1.0"/>
<text transform="translate(106.95 596.80) scale(0.93 1)" font-size="8.39" text-anchor="middle" fill="#1a1a1a" stroke="#1a1a1a" stroke-width="0.323">10<tspan font-size="5.81" dy="-3.2">3</tspan></text>
<line x1="112.72" y1="584.20" x2="112.72" y2="585.50" stroke="#1a1a1a" stroke-width="0.6"/>
<line x1="116.44" y1="584.20" x2="116.44" y2="585.50" stroke="#1a1a1a" stroke-width="0.6"/>
<line x1="119.08" y1="584.20" x2="119.08" y2="585.50" stroke="#1a1a1a" stroke-width="0.6"/>
<line x1="121.13" y1="584.20" x2="121.13" y2="585.50" stroke="#1a1a1a" stroke-width="0.6"/>
<line x1="122.81" y1="584.20" x2="122.81" y2="585.50" stroke="#1a1a1a" stroke-width="0.6"/>
<line x1="124.22" y1="584.20" x2="124.22" y2="585.50" stroke="#1a1a1a" stroke-width="0.6"/>
<line x1="125.45" y1="584.20" x2="125.45" y2="585.50" stroke="#1a1a1a" stroke-width="0.6"/>
<line x1="126.53" y1="584.20" x2="126.53" y2="585.50" stroke="#1a1a1a" stroke-width="0.6"/>
<line x1="127.50" y1="584.20" x2="127.50" y2="586.70" stroke="#1a1a1a" stroke-width="1.0"/>
<text transform="translate(128.10 596.80) scale(0.93 1)" font-size="8.39" text-anchor="middle" fill="#1a1a1a" stroke="#1a1a1a" stroke-width="0.323">10<tspan font-size="5.81" dy="-3.2">4</tspan></text>
<text transform="translate(14.50 541.70) rotate(-90) scale(0.9 1)" font-size="10.00" text-anchor="middle" fill="#1a1a1a" stroke="#1a1a1a" stroke-width="0.333" dominant-baseline="central">Count</text>
<polyline points="43.50,541.90 44.20,542.89 44.90,545.10 45.60,543.37 46.30,544.04 47.00,544.95 47.70,543.89 48.40,546.34 49.10,547.79 49.80,549.45 50.50,546.93 51.20,548.47 51.90,547.98 52.60,551.97 53.30,551.95 54.00,549.40 54.70,554.59 55.40,555.19 56.10,554.37 56.80,554.87 57.50,553.21 58.20,552.70 58.90,555.35 59.60,553.28 60.30,554.08 61.00,554.41 61.70,553.21 62.40,555.10 63.10,554.81 63.80,556.55 64.50,554.75 65.20,554.99 65.90,553.97 66.60,554.41 67.30,553.09 68.00,551.96 68.70,555.22 69.40,555.03 70.10,554.10 70.80,553.28 71.50,551.22 72.20,550.65 72.90,550.78 73.60,549.57 74.30,552.75 75.00,551.04 75.70,553.40 76.40,551.41 77.10,554.37 77.80,554.67 78.50,551.55 79.20,553.50 79.90,558.02 80.60,558.38 81.30,563.30 82.00,563.65 82.70,565.84 83.40,571.17 84.10,573.94 84.80,575.04 85.50,576.72 86.20,578.01 86.90,579.88 87.60,580.29 88.30,580.17 89.00,580.53 89.70,580.43 90.40,580.46 91.10,581.49 91.80,580.78 92.50,581.34 93.20,581.28 93.90,581.05 94.60,581.79 95.30,581.15 96.00,581.80 96.70,581.21 97.40,581.60 98.10,581.39 98.80,581.49 99.50,582.32 100.20,582.16 100.90,581.62 101.60,582.31 102.30,581.58 103.00,581.82 103.70,582.36 104.40,582.16 105.10,581.59 105.80,582.60 106.50,581.78 107.20,581.86 107.90,582.45 108.60,582.00 109.30,582.00 110.00,581.80 110.70,581.85 111.40,582.40 112.10,582.07 112.80,582.48 113.50,582.27 114.20,582.39 114.90,582.93 115.60,582.48 116.30,582.60 117.00,582.92 117.70,582.27 118.40,582.28 119.10,583.05 119.80,582.99 120.50,582.47 121.20,582.44 121.90,583.00 122.60,583.22 123.30,582.55 124.00,583.29 124.70,583.25 125.40,583.02 126.10,582.89" fill="none" stroke="#8a8a8a" stroke-width="1.0" stroke-linejoin="round"/>
<polyline points="43.50,563.23 44.20,563.80 44.90,563.63 45.60,561.11 46.30,560.31 47.00,561.69 47.70,561.02 48.40,563.16 49.10,562.38 49.80,561.71 50.50,561.24 51.20,561.42 51.90,558.87 52.60,559.89 53.30,558.40 54.00,561.39 54.70,557.39 55.40,560.45 56.10,556.90 56.80,559.32 57.50,557.43 58.20,557.20 58.90,558.60 59.60,554.45 60.30,554.11 61.00,557.34 61.70,555.02 62.40,552.66 63.10,556.07 63.80,555.37 64.50,550.80 65.20,550.79 65.90,548.14 66.60,547.54 67.30,547.52 68.00,543.52 68.70,543.07 69.40,537.43 70.10,535.15 70.80,534.63 71.50,529.22 72.20,525.93 72.90,523.87 73.60,520.50 74.30,518.49 75.00,515.53 75.70,517.20 76.40,516.77 77.10,514.78 77.80,511.39 78.50,511.84 79.20,516.56 79.90,525.34 80.60,533.66 81.30,539.11 82.00,547.46 82.70,555.55 83.40,563.33 84.10,571.35 84.80,572.72 85.50,573.97 86.20,577.94 86.90,578.98 87.60,579.43 88.30,579.31 89.00,579.92 89.70,580.18 90.40,580.98 91.10,580.47 91.80,581.31 92.50,580.97 93.20,581.58 93.90,580.88 94.60,581.18 95.30,581.29 96.00,581.65 96.70,581.04 97.40,581.52 98.10,581.29 98.80,581.40 99.50,581.64 100.20,582.19 100.90,581.72 101.60,582.25 102.30,581.46 103.00,582.28 103.70,581.73 104.40,581.59 105.10,582.19 105.80,582.39 106.50,581.51 107.20,581.81 107.90,582.35 108.60,581.95 109.30,581.89 110.00,581.69 110.70,581.76 111.40,582.36 112.10,582.74 112.80,582.79 113.50,582.35 114.20,581.93 114.90,582.25 115.60,582.72 116.30,582.79 117.00,582.64 117.70,582.30 118.40,582.61 119.10,582.60 119.80,582.77 120.50,582.47 121.20,583.11 121.90,583.10 122.60,582.49 123.30,582.64 124.00,583.18 124.70,582.70 125.40,583.30 126.10,582.97" fill="none" stroke="#a0a0a0" stroke-width="1.0" stroke-linejoin="round"/>
<polyline points="43.50,575.19 44.20,575.73 44.90,575.64 45.60,575.81 46.30,574.73 47.00,574.70 47.70,574.49 48.40,574.52 49.10,575.22 49.80,574.20 50.50,574.72 51.20,574.05 51.90,574.00 52.60,574.05 53.30,574.54 54.00,573.99 54.70,572.82 55.40,573.08 56.10,572.68 56.80,573.77 57.50,573.48 58.20,573.22 58.90,573.00 59.60,572.59 60.30,572.73 61.00,572.17 61.70,570.86 62.40,571.78 63.10,570.79 63.80,571.08 64.50,570.33 65.20,569.57 65.90,568.95 66.60,568.62 67.30,567.88 68.00,566.93 68.70,568.15 69.40,567.65 70.10,567.46 70.80,566.01 71.50,564.95 72.20,564.80 72.90,562.33 73.60,563.23 74.30,561.83 75.00,559.94 75.70,558.64 76.40,558.22 77.10,556.03 77.80,555.27 78.50,553.25 79.20,549.37 79.90,545.32 80.60,543.14 81.30,537.91 82.00,533.26 82.70,528.48 83.40,524.48 84.10,519.96 84.80,518.05 85.50,516.21 86.20,514.00 86.90,514.47 87.60,514.60 88.30,511.56 89.00,511.48 89.70,514.00 90.40,515.28 91.10,515.86 91.80,515.61 92.50,519.73 93.20,524.80 93.90,528.57 94.60,532.04 95.30,533.96 96.00,539.62 96.70,541.90 97.40,546.46 98.10,548.00 98.80,553.79 99.50,555.97 100.20,559.05 100.90,560.01 101.60,563.70 102.30,566.07 103.00,568.56 103.70,569.34 104.40,571.20 105.10,571.53 105.80,572.57 106.50,573.48 107.20,575.41 107.90,575.31 108.60,575.94 109.30,576.21 110.00,577.42 110.70,577.76 111.40,578.20 112.10,578.10 112.80,578.97 113.50,579.12 114.20,579.12 114.90,579.29 115.60,580.47 116.30,579.91 117.00,580.32 117.70,580.54 118.40,581.00 119.10,580.75 119.80,581.24 120.50,581.33 121.20,581.84 121.90,581.41 122.60,581.82 123.30,582.10 124.00,582.58 124.70,582.45 125.40,582.60 126.10,582.88" fill="none" stroke="#555" stroke-width="1.0" stroke-linejoin="round"/>
<text transform="translate(46.40 509.00) scale(0.9 1)" font-size="8.89" text-anchor="start" fill="#1a1a1a" stroke="#1a1a1a" stroke-width="0.333">β3-null</text>
<text transform="translate(52.80 534.00) scale(0.9 1)" font-size="8.89" text-anchor="start" fill="#1a1a1a" stroke="#1a1a1a" stroke-width="0.333">NA</text>
<line x1="56.40" y1="537.50" x2="53.65" y2="544.73" stroke="#1a1a1a" stroke-width="1"/>
<polygon points="52.40,548.00 52.15,544.16 55.14,545.30" fill="#1a1a1a"/>
<text transform="translate(95.20 528.20) scale(0.9 1)" font-size="8.89" text-anchor="start" fill="#1a1a1a" stroke="#1a1a1a" stroke-width="0.333">WT</text>
<text transform="translate(85.00 610.50) scale(0.9 1)" font-size="10.00" text-anchor="middle" fill="#1a1a1a" stroke="#1a1a1a" stroke-width="0.333">Alexa fluor 488</text>
<line x1="168.75" y1="501.20" x2="168.75" y2="583.80" stroke="#1a1a1a" stroke-width="1.6"/>
<line x1="167.95" y1="583.00" x2="240.00" y2="583.00" stroke="#1a1a1a" stroke-width="1.6"/>
<line x1="166.15" y1="583.00" x2="168.75" y2="583.00" stroke="#1a1a1a" stroke-width="1.0"/>
<text transform="translate(162.75 585.70) scale(0.93 1)" font-size="8.06" text-anchor="end" fill="#1a1a1a" stroke="#1a1a1a" stroke-width="0.323">0</text>
<line x1="166.15" y1="567.00" x2="168.75" y2="567.00" stroke="#1a1a1a" stroke-width="1.0"/>
<text transform="translate(162.75 569.70) scale(0.93 1)" font-size="8.06" text-anchor="end" fill="#1a1a1a" stroke="#1a1a1a" stroke-width="0.323">50</text>
<line x1="166.15" y1="551.00" x2="168.75" y2="551.00" stroke="#1a1a1a" stroke-width="1.0"/>
<text transform="translate(162.75 553.70) scale(0.93 1)" font-size="8.06" text-anchor="end" fill="#1a1a1a" stroke="#1a1a1a" stroke-width="0.323">100</text>
<line x1="166.15" y1="535.00" x2="168.75" y2="535.00" stroke="#1a1a1a" stroke-width="1.0"/>
<text transform="translate(162.75 537.70) scale(0.93 1)" font-size="8.06" text-anchor="end" fill="#1a1a1a" stroke="#1a1a1a" stroke-width="0.323">150</text>
<line x1="166.15" y1="519.00" x2="168.75" y2="519.00" stroke="#1a1a1a" stroke-width="1.0"/>
<text transform="translate(162.75 521.70) scale(0.93 1)" font-size="8.06" text-anchor="end" fill="#1a1a1a" stroke="#1a1a1a" stroke-width="0.323">200</text>
<line x1="166.15" y1="503.00" x2="168.75" y2="503.00" stroke="#1a1a1a" stroke-width="1.0"/>
<text transform="translate(162.75 505.70) scale(0.93 1)" font-size="8.06" text-anchor="end" fill="#1a1a1a" stroke="#1a1a1a" stroke-width="0.323">250</text>
<rect x="173.75" y="577.50" width="9.50" height="5.50" fill="#ab022d" stroke="#7e0020" stroke-width="0.6"/>
<line x1="178.50" y1="577.50" x2="178.50" y2="575.99" stroke="#222" stroke-width="1.1"/>
<line x1="175.65" y1="575.99" x2="181.35" y2="575.99" stroke="#222" stroke-width="1.1"/>
<rect x="192.00" y="577.50" width="10.00" height="5.50" fill="#2c4b8a" stroke="#1d3160" stroke-width="0.6"/>
<line x1="197.00" y1="577.50" x2="197.00" y2="575.99" stroke="#222" stroke-width="1.1"/>
<line x1="194.00" y1="575.99" x2="200.00" y2="575.99" stroke="#222" stroke-width="1.1"/>
<rect x="210.50" y="518.04" width="9.50" height="64.96" fill="#ab022d" stroke="#7e0020" stroke-width="0.6"/>
<line x1="215.25" y1="518.04" x2="215.25" y2="514.30" stroke="#222" stroke-width="1.1"/>
<line x1="212.40" y1="514.30" x2="218.10" y2="514.30" stroke="#222" stroke-width="1.1"/>
<rect x="229.25" y="571.26" width="9.00" height="11.74" fill="#2c4b8a" stroke="#1d3160" stroke-width="0.6"/>
<line x1="233.75" y1="571.26" x2="233.75" y2="568.76" stroke="#222" stroke-width="1.1"/>
<line x1="231.05" y1="568.76" x2="236.45" y2="568.76" stroke="#222" stroke-width="1.1"/>
<line x1="177.50" y1="569.50" x2="197.50" y2="569.50" stroke="#333" stroke-width="1.3"/>
<text transform="translate(187.50 566.20) scale(0.9 1)" font-size="8.89" text-anchor="middle" fill="#1a1a1a" stroke="#1a1a1a" stroke-width="0.333">NS</text>
<line x1="178.00" y1="509.50" x2="209.50" y2="509.50" stroke="#333" stroke-width="1.3"/>
<circle cx="190.15" cy="504.70" r="1.15" fill="#111"/>
<circle cx="193.75" cy="504.70" r="1.15" fill="#111"/>
<circle cx="197.35" cy="504.70" r="1.15" fill="#111"/>
<line x1="216.25" y1="509.50" x2="237.50" y2="509.50" stroke="#333" stroke-width="1.3"/>
<circle cx="223.28" cy="504.70" r="1.15" fill="#111"/>
<circle cx="226.88" cy="504.70" r="1.15" fill="#111"/>
<circle cx="230.47" cy="504.70" r="1.15" fill="#111"/>
<text transform="translate(142.00 541.30) rotate(-90) scale(0.9 1)" font-size="10.00" text-anchor="middle" fill="#1a1a1a" stroke="#1a1a1a" stroke-width="0.333" dominant-baseline="central">MFI</text>
<text transform="translate(178.80 594.30) scale(0.9 1)" font-size="8.89" text-anchor="middle" fill="#1a1a1a" stroke="#1a1a1a" stroke-width="0.333">WT</text>
<text transform="translate(197.20 594.30) scale(0.9 1)" font-size="8.89" text-anchor="middle" fill="#1a1a1a" stroke="#1a1a1a" stroke-width="0.333">β3</text>
<text transform="translate(215.20 594.30) scale(0.9 1)" font-size="8.89" text-anchor="middle" fill="#1a1a1a" stroke="#1a1a1a" stroke-width="0.333">WT</text>
<text transform="translate(233.20 594.30) scale(0.9 1)" font-size="8.89" text-anchor="middle" fill="#1a1a1a" stroke="#1a1a1a" stroke-width="0.333">β3</text>
<line x1="171.20" y1="597.20" x2="202.40" y2="597.20" stroke="#333" stroke-width="1.2"/>
<text transform="translate(186.80 608.10) scale(0.9 1)" font-size="8.89" text-anchor="middle" fill="#1a1a1a" stroke="#1a1a1a" stroke-width="0.333">NA</text>
<line x1="209.30" y1="597.20" x2="240.40" y2="597.20" stroke="#333" stroke-width="1.2"/>
<text transform="translate(224.85 608.10) scale(0.9 1)" font-size="8.89" text-anchor="middle" fill="#1a1a1a" stroke="#1a1a1a" stroke-width="0.333">Activated</text>
<rect x="278.50" y="499.50" width="83.20" height="84.30" fill="none" stroke="#1a1a1a" stroke-width="1.6"/>
<line x1="275.70" y1="583.10" x2="278.50" y2="583.10" stroke="#1a1a1a" stroke-width="1.0"/>
<text transform="translate(272.90 585.90) scale(0.93 1)" font-size="8.39" text-anchor="end" fill="#1a1a1a" stroke="#1a1a1a" stroke-width="0.323">0</text>
<line x1="275.70" y1="566.52" x2="278.50" y2="566.52" stroke="#1a1a1a" stroke-width="1.0"/>
<text transform="translate(272.90 569.32) scale(0.93 1)" font-size="8.39" text-anchor="end" fill="#1a1a1a" stroke="#1a1a1a" stroke-width="0.323">40</text>
<line x1="275.70" y1="549.94" x2="278.50" y2="549.94" stroke="#1a1a1a" stroke-width="1.0"/>
<text transform="translate(272.90 552.74) scale(0.93 1)" font-size="8.39" text-anchor="end" fill="#1a1a1a" stroke="#1a1a1a" stroke-width="0.323">80</text>
<line x1="275.70" y1="533.36" x2="278.50" y2="533.36" stroke="#1a1a1a" stroke-width="1.0"/>
<text transform="translate(272.90 536.16) scale(0.93 1)" font-size="8.39" text-anchor="end" fill="#1a1a1a" stroke="#1a1a1a" stroke-width="0.323">120</text>
<line x1="275.70" y1="516.78" x2="278.50" y2="516.78" stroke="#1a1a1a" stroke-width="1.0"/>
<text transform="translate(272.90 519.58) scale(0.93 1)" font-size="8.39" text-anchor="end" fill="#1a1a1a" stroke="#1a1a1a" stroke-width="0.323">160</text>
<line x1="275.70" y1="500.20" x2="278.50" y2="500.20" stroke="#1a1a1a" stroke-width="1.0"/>
<text transform="translate(272.90 503.00) scale(0.93 1)" font-size="8.39" text-anchor="end" fill="#1a1a1a" stroke="#1a1a1a" stroke-width="0.323">200</text>
<line x1="277.10" y1="577.57" x2="278.50" y2="577.57" stroke="#1a1a1a" stroke-width="0.8"/>
<line x1="277.10" y1="572.05" x2="278.50" y2="572.05" stroke="#1a1a1a" stroke-width="0.8"/>
<line x1="277.10" y1="560.99" x2="278.50" y2="560.99" stroke="#1a1a1a" stroke-width="0.8"/>
<line x1="277.10" y1="555.47" x2="278.50" y2="555.47" stroke="#1a1a1a" stroke-width="0.8"/>
<line x1="277.10" y1="544.41" x2="278.50" y2="544.41" stroke="#1a1a1a" stroke-width="0.8"/>
<line x1="277.10" y1="538.89" x2="278.50" y2="538.89" stroke="#1a1a1a" stroke-width="0.8"/>
<line x1="277.10" y1="527.83" x2="278.50" y2="527.83" stroke="#1a1a1a" stroke-width="0.8"/>
<line x1="277.10" y1="522.31" x2="278.50" y2="522.31" stroke="#1a1a1a" stroke-width="0.8"/>
<line x1="277.10" y1="511.25" x2="278.50" y2="511.25" stroke="#1a1a1a" stroke-width="0.8"/>
<line x1="277.10" y1="505.73" x2="278.50" y2="505.73" stroke="#1a1a1a" stroke-width="0.8"/>
<line x1="279.00" y1="583.80" x2="279.00" y2="586.30" stroke="#1a1a1a" stroke-width="1.0"/>
<text transform="translate(279.60 596.40) scale(0.93 1)" font-size="8.39" text-anchor="middle" fill="#1a1a1a" stroke="#1a1a1a" stroke-width="0.323">10<tspan font-size="5.81" dy="-3.2">0</tspan></text>
<line x1="285.23" y1="583.80" x2="285.23" y2="585.10" stroke="#1a1a1a" stroke-width="0.6"/>
<line x1="288.88" y1="583.80" x2="288.88" y2="585.10" stroke="#1a1a1a" stroke-width="0.6"/>
<line x1="291.46" y1="583.80" x2="291.46" y2="585.10" stroke="#1a1a1a" stroke-width="0.6"/>
<line x1="293.47" y1="583.80" x2="293.47" y2="585.10" stroke="#1a1a1a" stroke-width="0.6"/>
<line x1="295.11" y1="583.80" x2="295.11" y2="585.10" stroke="#1a1a1a" stroke-width="0.6"/>
<line x1="296.49" y1="583.80" x2="296.49" y2="585.10" stroke="#1a1a1a" stroke-width="0.6"/>
<line x1="297.69" y1="583.80" x2="297.69" y2="585.10" stroke="#1a1a1a" stroke-width="0.6"/>
<line x1="298.75" y1="583.80" x2="298.75" y2="585.10" stroke="#1a1a1a" stroke-width="0.6"/>
<line x1="299.70" y1="583.80" x2="299.70" y2="586.30" stroke="#1a1a1a" stroke-width="1.0"/>
<text transform="translate(300.30 596.40) scale(0.93 1)" font-size="8.39" text-anchor="middle" fill="#1a1a1a" stroke="#1a1a1a" stroke-width="0.323">10<tspan font-size="5.81" dy="-3.2">1</tspan></text>
<line x1="305.93" y1="583.80" x2="305.93" y2="585.10" stroke="#1a1a1a" stroke-width="0.6"/>
<line x1="309.58" y1="583.80" x2="309.58" y2="585.10" stroke="#1a1a1a" stroke-width="0.6"/>
<line x1="312.16" y1="583.80" x2="312.16" y2="585.10" stroke="#1a1a1a" stroke-width="0.6"/>
<line x1="314.17" y1="583.80" x2="314.17" y2="585.10" stroke="#1a1a1a" stroke-width="0.6"/>
<line x1="315.81" y1="583.80" x2="315.81" y2="585.10" stroke="#1a1a1a" stroke-width="0.6"/>
<line x1="317.19" y1="583.80" x2="317.19" y2="585.10" stroke="#1a1a1a" stroke-width="0.6"/>
<line x1="318.39" y1="583.80" x2="318.39" y2="585.10" stroke="#1a1a1a" stroke-width="0.6"/>
<line x1="319.45" y1="583.80" x2="319.45" y2="585.10" stroke="#1a1a1a" stroke-width="0.6"/>
<line x1="320.40" y1="583.80" x2="320.40" y2="586.30" stroke="#1a1a1a" stroke-width="1.0"/>
<text transform="translate(321.00 596.40) scale(0.93 1)" font-size="8.39" text-anchor="middle" fill="#1a1a1a" stroke="#1a1a1a" stroke-width="0.323">10<tspan font-size="5.81" dy="-3.2">2</tspan></text>
<line x1="326.63" y1="583.80" x2="326.63" y2="585.10" stroke="#1a1a1a" stroke-width="0.6"/>
<line x1="330.28" y1="583.80" x2="330.28" y2="585.10" stroke="#1a1a1a" stroke-width="0.6"/>
<line x1="332.86" y1="583.80" x2="332.86" y2="585.10" stroke="#1a1a1a" stroke-width="0.6"/>
<line x1="334.87" y1="583.80" x2="334.87" y2="585.10" stroke="#1a1a1a" stroke-width="0.6"/>
<line x1="336.51" y1="583.80" x2="336.51" y2="585.10" stroke="#1a1a1a" stroke-width="0.6"/>
<line x1="337.89" y1="583.80" x2="337.89" y2="585.10" stroke="#1a1a1a" stroke-width="0.6"/>
<line x1="339.09" y1="583.80" x2="339.09" y2="585.10" stroke="#1a1a1a" stroke-width="0.6"/>
<line x1="340.15" y1="583.80" x2="340.15" y2="585.10" stroke="#1a1a1a" stroke-width="0.6"/>
<line x1="341.10" y1="583.80" x2="341.10" y2="586.30" stroke="#1a1a1a" stroke-width="1.0"/>
<text transform="translate(341.70 596.40) scale(0.93 1)" font-size="8.39" text-anchor="middle" fill="#1a1a1a" stroke="#1a1a1a" stroke-width="0.323">10<tspan font-size="5.81" dy="-3.2">3</tspan></text>
<line x1="347.33" y1="583.80" x2="347.33" y2="585.10" stroke="#1a1a1a" stroke-width="0.6"/>
<line x1="350.98" y1="583.80" x2="350.98" y2="585.10" stroke="#1a1a1a" stroke-width="0.6"/>
<line x1="353.56" y1="583.80" x2="353.56" y2="585.10" stroke="#1a1a1a" stroke-width="0.6"/>
<line x1="355.57" y1="583.80" x2="355.57" y2="585.10" stroke="#1a1a1a" stroke-width="0.6"/>
<line x1="357.21" y1="583.80" x2="357.21" y2="585.10" stroke="#1a1a1a" stroke-width="0.6"/>
<line x1="358.59" y1="583.80" x2="358.59" y2="585.10" stroke="#1a1a1a" stroke-width="0.6"/>
<line x1="359.79" y1="583.80" x2="359.79" y2="585.10" stroke="#1a1a1a" stroke-width="0.6"/>
<line x1="360.85" y1="583.80" x2="360.85" y2="585.10" stroke="#1a1a1a" stroke-width="0.6"/>
<line x1="361.80" y1="583.80" x2="361.80" y2="586.30" stroke="#1a1a1a" stroke-width="1.0"/>
<text transform="translate(362.40 596.40) scale(0.93 1)" font-size="8.39" text-anchor="middle" fill="#1a1a1a" stroke="#1a1a1a" stroke-width="0.323">10<tspan font-size="5.81" dy="-3.2">4</tspan></text>
<text transform="translate(250.40 542.00) rotate(-90) scale(0.9 1)" font-size="10.00" text-anchor="middle" fill="#1a1a1a" stroke="#1a1a1a" stroke-width="0.333" dominant-baseline="central">Count</text>
<polyline points="279.30,508.79 280.00,520.02 280.70,526.79 281.40,531.06 282.10,531.97 282.80,535.90 283.50,537.81 284.20,538.21 284.90,539.34 285.60,539.53 286.30,539.85 287.00,542.71 287.70,545.09 288.40,544.84 289.10,549.05 289.80,548.64 290.50,550.52 291.20,551.72 291.90,557.05 292.60,558.12 293.30,560.93 294.00,562.31 294.70,562.63 295.40,565.45 296.10,567.36 296.80,567.70 297.50,571.28 298.20,571.20 298.90,571.74 299.60,573.87 300.30,573.15 301.00,575.41 301.70,575.22 302.40,576.09 303.10,576.45 303.80,577.31 304.50,577.14 305.20,577.21 305.90,578.64 306.60,578.04 307.30,579.02 308.00,578.55 308.70,579.76 309.40,579.92 310.10,580.01 310.80,580.22 311.50,580.08 312.20,580.32 312.90,579.72 313.60,580.18 314.30,580.63 315.00,580.04 315.70,580.87 316.40,580.90 317.10,580.48 317.80,580.51 318.50,580.67 319.20,580.68 319.90,581.35 320.60,580.81 321.30,580.53 322.00,580.66 322.70,581.33 323.40,581.65 324.10,581.24 324.80,581.31 325.50,581.43 326.20,581.67 326.90,581.26 327.60,581.67 328.30,581.69 329.00,581.81 329.70,581.50 330.40,581.53 331.10,581.70 331.80,582.20 332.50,581.73 333.20,581.95 333.90,581.72 334.60,581.57 335.30,581.56 336.00,582.20 336.70,582.18 337.40,581.86 338.10,582.14 338.80,582.14 339.50,582.34 340.20,582.41 340.90,581.97 341.60,582.46 342.30,582.45 343.00,582.17 343.70,582.42 344.40,582.12 345.10,582.04 345.80,581.95 346.50,582.47 347.20,581.92 347.90,581.86 348.60,582.46 349.30,582.45 350.00,582.24 350.70,582.53 351.40,581.93 352.10,582.11 352.80,582.15 353.50,582.27 354.20,582.09 354.90,582.03 355.60,582.25 356.30,582.70 357.00,582.78 357.70,582.61 358.40,582.43 359.10,582.27 359.80,582.82 360.50,582.51" fill="none" stroke="#3a3a3a" stroke-width="1.2" stroke-linejoin="round"/>
<polyline points="279.30,576.27 280.00,573.91 280.70,572.55 281.40,573.18 282.10,570.51 282.80,569.22 283.50,569.25 284.20,567.43 284.90,567.81 285.60,565.53 286.30,566.84 287.00,564.52 287.70,564.70 288.40,565.05 289.10,563.75 289.80,563.87 290.50,562.88 291.20,560.57 291.90,562.72 292.60,561.51 293.30,560.33 294.00,560.31 294.70,562.63 295.40,562.17 296.10,563.57 296.80,563.42 297.50,564.85 298.20,564.60 298.90,565.85 299.60,566.51 300.30,566.56 301.00,569.35 301.70,568.99 302.40,571.11 303.10,572.53 303.80,573.05 304.50,573.31 305.20,575.10 305.90,575.52 306.60,575.51 307.30,576.04 308.00,577.36 308.70,577.46 309.40,578.87 310.10,578.66 310.80,578.93 311.50,579.09 312.20,579.60 312.90,580.11 313.60,579.79 314.30,580.12 315.00,580.57 315.70,580.59 316.40,580.93 317.10,580.95 317.80,580.91 318.50,581.17 319.20,581.11 319.90,580.82 320.60,581.60 321.30,581.15 322.00,581.27 322.70,581.31 323.40,581.77 324.10,581.84 324.80,581.57 325.50,581.55 326.20,581.38 326.90,582.02 327.60,581.56 328.30,581.89 329.00,581.81 329.70,581.86 330.40,581.91 331.10,581.81 331.80,581.71 332.50,582.06 333.20,582.25 333.90,582.16 334.60,581.87 335.30,582.22 336.00,581.79 336.70,582.05 337.40,582.34 338.10,582.41 338.80,582.12 339.50,582.39 340.20,582.16 340.90,582.19 341.60,582.24 342.30,582.53 343.00,582.37 343.70,582.20 344.40,582.38 345.10,582.34 345.80,582.16 346.50,582.45 347.20,582.49 347.90,582.36 348.60,582.59 349.30,582.00 350.00,582.32 350.70,582.42 351.40,582.24 352.10,582.14 352.80,582.49 353.50,582.34 354.20,582.24 354.90,582.11 355.60,582.71 356.30,582.33 357.00,582.19 357.70,582.27 358.40,582.30 359.10,582.70 359.80,582.28 360.50,582.35" fill="none" stroke="#7a7a7a" stroke-width="1.1" stroke-linejoin="round"/>
<polyline points="279.30,581.78 280.00,581.78 280.70,581.72 281.40,581.18 282.10,581.49 282.80,581.37 283.50,581.42 284.20,581.14 284.90,581.16 285.60,581.31 286.30,581.14 287.00,581.28 287.70,580.98 288.40,581.00 289.10,581.40 289.80,581.19 290.50,581.24 291.20,581.37 291.90,581.10 292.60,580.88 293.30,581.36 294.00,581.21 294.70,581.24 295.40,581.19 296.10,581.42 296.80,580.98 297.50,581.24 298.20,580.95 298.90,581.08 299.60,581.12 300.30,580.87 301.00,580.70 301.70,580.96 302.40,581.12 303.10,581.02 303.80,580.91 304.50,581.04 305.20,580.71 305.90,580.70 306.60,580.79 307.30,581.13 308.00,580.68 308.70,580.61 309.40,580.59 310.10,580.54 310.80,580.70 311.50,580.91 312.20,581.08 312.90,580.72 313.60,580.73 314.30,580.67 315.00,580.67 315.70,581.00 316.40,580.63 317.10,580.16 317.80,579.80 318.50,580.10 319.20,579.80 319.90,579.67 320.60,578.90 321.30,578.75 322.00,578.44 322.70,577.43 323.40,577.16 324.10,575.55 324.80,575.89 325.50,573.98 326.20,573.78 326.90,571.70 327.60,571.56 328.30,569.93 329.00,569.10 329.70,567.23 330.40,565.24 331.10,561.81 331.80,560.56 332.50,557.52 333.20,553.93 333.90,552.31 334.60,547.50 335.30,543.76 336.00,540.20 336.70,537.96 337.40,534.00 338.10,532.66 338.80,530.51 339.50,526.83 340.20,525.47 340.90,527.28 341.60,527.04 342.30,530.71 343.00,534.45 343.70,536.58 344.40,542.00 345.10,548.23 345.80,550.94 346.50,554.39 347.20,559.54 347.90,562.85 348.60,565.34 349.30,567.13 350.00,568.89 350.70,571.25 351.40,572.65 352.10,573.52 352.80,574.15 353.50,575.46 354.20,576.50 354.90,577.39 355.60,577.63 356.30,578.10 357.00,578.84 357.70,578.65 358.40,579.60 359.10,579.82 359.80,580.39 360.50,580.97" fill="none" stroke="#777" stroke-width="1.1" stroke-linejoin="round"/>
<text transform="translate(289.80 540.20) scale(0.9 1)" font-size="8.89" text-anchor="start" fill="#1a1a1a" stroke="#1a1a1a" stroke-width="0.333">NA</text>
<text transform="translate(303.60 556.70) scale(0.9 1)" font-size="8.89" text-anchor="start" fill="#1a1a1a" stroke="#1a1a1a" stroke-width="0.333">β3-null</text>
<line x1="308.90" y1="559.10" x2="306.42" y2="567.25" stroke="#1a1a1a" stroke-width="1"/>
<polygon points="305.40,570.60 304.89,566.79 307.95,567.72" fill="#1a1a1a"/>
<text transform="translate(344.20 535.00) scale(0.9 1)" font-size="8.89" text-anchor="start" fill="#1a1a1a" stroke="#1a1a1a" stroke-width="0.333">WT</text>
<text transform="translate(320.50 611.00) scale(0.9 1)" font-size="10.00" text-anchor="middle" fill="#1a1a1a" stroke="#1a1a1a" stroke-width="0.333">Alexa fluor 488</text>
<line x1="405.60" y1="501.00" x2="405.60" y2="583.90" stroke="#1a1a1a" stroke-width="1.6"/>
<line x1="404.80" y1="583.10" x2="482.30" y2="583.10" stroke="#1a1a1a" stroke-width="1.6"/>
<line x1="403.00" y1="583.10" x2="405.60" y2="583.10" stroke="#1a1a1a" stroke-width="1.0"/>
<text transform="translate(399.60 585.80) scale(0.93 1)" font-size="8.06" text-anchor="end" fill="#1a1a1a" stroke="#1a1a1a" stroke-width="0.323">0</text>
<line x1="403.00" y1="567.06" x2="405.60" y2="567.06" stroke="#1a1a1a" stroke-width="1.0"/>
<text transform="translate(399.60 569.76) scale(0.93 1)" font-size="8.06" text-anchor="end" fill="#1a1a1a" stroke="#1a1a1a" stroke-width="0.323">200</text>
<line x1="403.00" y1="551.02" x2="405.60" y2="551.02" stroke="#1a1a1a" stroke-width="1.0"/>
<text transform="translate(399.60 553.72) scale(0.93 1)" font-size="8.06" text-anchor="end" fill="#1a1a1a" stroke="#1a1a1a" stroke-width="0.323">400</text>
<line x1="403.00" y1="534.98" x2="405.60" y2="534.98" stroke="#1a1a1a" stroke-width="1.0"/>
<text transform="translate(399.60 537.68) scale(0.93 1)" font-size="8.06" text-anchor="end" fill="#1a1a1a" stroke="#1a1a1a" stroke-width="0.323">600</text>
<line x1="403.00" y1="518.94" x2="405.60" y2="518.94" stroke="#1a1a1a" stroke-width="1.0"/>
<text transform="translate(399.60 521.64) scale(0.93 1)" font-size="8.06" text-anchor="end" fill="#1a1a1a" stroke="#1a1a1a" stroke-width="0.323">800</text>
<line x1="403.00" y1="502.90" x2="405.60" y2="502.90" stroke="#1a1a1a" stroke-width="1.0"/>
<text transform="translate(399.60 505.60) scale(0.93 1)" font-size="8.06" text-anchor="end" fill="#1a1a1a" stroke="#1a1a1a" stroke-width="0.323">1000</text>
<rect x="410.50" y="581.82" width="7.50" height="1.28" fill="#222" stroke="#222" stroke-width="0.6"/>
<rect x="430.50" y="581.82" width="8.00" height="1.28" fill="#222" stroke="#222" stroke-width="0.6"/>
<rect x="449.50" y="529.29" width="9.10" height="53.81" fill="#ab022d" stroke="#7e0020" stroke-width="0.6"/>
<line x1="454.05" y1="529.29" x2="454.05" y2="515.01" stroke="#222" stroke-width="1.1"/>
<line x1="451.32" y1="515.01" x2="456.78" y2="515.01" stroke="#222" stroke-width="1.1"/>
<rect x="468.30" y="573.40" width="8.60" height="9.70" fill="#2c4b8a" stroke="#1d3160" stroke-width="0.6"/>
<line x1="472.60" y1="573.40" x2="472.60" y2="567.46" stroke="#222" stroke-width="1.1"/>
<line x1="470.02" y1="567.46" x2="475.18" y2="567.46" stroke="#222" stroke-width="1.1"/>
<line x1="414.50" y1="572.00" x2="437.00" y2="572.00" stroke="#333" stroke-width="1.3"/>
<text transform="translate(425.75 568.60) scale(0.9 1)" font-size="8.89" text-anchor="middle" fill="#1a1a1a" stroke="#1a1a1a" stroke-width="0.333">NS</text>
<line x1="416.30" y1="511.00" x2="448.70" y2="511.00" stroke="#333" stroke-width="1.3"/>
<circle cx="428.90" cy="506.20" r="1.15" fill="#111"/>
<circle cx="432.50" cy="506.20" r="1.15" fill="#111"/>
<circle cx="436.10" cy="506.20" r="1.15" fill="#111"/>
<line x1="452.20" y1="511.00" x2="476.40" y2="511.00" stroke="#333" stroke-width="1.3"/>
<circle cx="460.70" cy="506.20" r="1.15" fill="#111"/>
<circle cx="464.30" cy="506.20" r="1.15" fill="#111"/>
<circle cx="467.90" cy="506.20" r="1.15" fill="#111"/>
<text transform="translate(378.70 540.60) rotate(-90) scale(0.9 1)" font-size="10.00" text-anchor="middle" fill="#1a1a1a" stroke="#1a1a1a" stroke-width="0.333" dominant-baseline="central">MFI</text>
<text transform="translate(415.00 594.30) scale(0.9 1)" font-size="8.89" text-anchor="middle" fill="#1a1a1a" stroke="#1a1a1a" stroke-width="0.333">WT</text>
<text transform="translate(433.80 594.30) scale(0.9 1)" font-size="8.89" text-anchor="middle" fill="#1a1a1a" stroke="#1a1a1a" stroke-width="0.333">β3</text>
<text transform="translate(452.70 594.30) scale(0.9 1)" font-size="8.89" text-anchor="middle" fill="#1a1a1a" stroke="#1a1a1a" stroke-width="0.333">WT</text>
<text transform="translate(472.90 594.30) scale(0.9 1)" font-size="8.89" text-anchor="middle" fill="#1a1a1a" stroke="#1a1a1a" stroke-width="0.333">β3</text>
<line x1="408.30" y1="597.20" x2="439.80" y2="597.20" stroke="#333" stroke-width="1.2"/>
<text transform="translate(424.05 608.10) scale(0.9 1)" font-size="8.89" text-anchor="middle" fill="#1a1a1a" stroke="#1a1a1a" stroke-width="0.333">NA</text>
<line x1="446.00" y1="597.20" x2="481.80" y2="597.20" stroke="#333" stroke-width="1.2"/>
<text transform="translate(463.90 608.10) scale(0.9 1)" font-size="8.89" text-anchor="middle" fill="#1a1a1a" stroke="#1a1a1a" stroke-width="0.333">Mn<tspan font-size="6.2" dy="-3.6">2+</tspan><tspan dy="3.6">-treated</tspan></text>
<line x1="0.00" y1="0.75" x2="520.00" y2="0.75" stroke="#000" stroke-width="1.5"/>
<line x1="0.60" y1="0.00" x2="0.60" y2="620.00" stroke="#000" stroke-width="1.2"/>
<line x1="519.00" y1="0.00" x2="519.00" y2="620.00" stroke="#000" stroke-width="2"/>
<line x1="0.00" y1="619.00" x2="520.00" y2="619.00" stroke="#000" stroke-width="2"/>
</g>
</svg></body></html>
